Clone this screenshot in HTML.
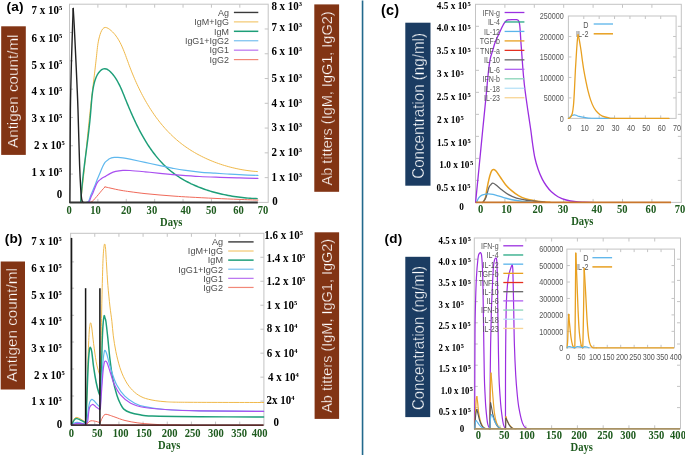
<!DOCTYPE html>
<html><head><meta charset="utf-8"><style>
html,body{margin:0;padding:0;background:#fff;}
svg{display:block;will-change:transform;}
</style></head><body>
<svg width="685" height="455" viewBox="0 0 685 455">
<rect width="685" height="455" fill="#fff"/>
<rect x="69.5" y="4.2" width="198.7" height="198.20000000000002" fill="none" stroke="#c4c4c4" stroke-width="1"/>
<line x1="97.88571428571429" y1="202.4" x2="97.88571428571429" y2="198.9" stroke="#c4c4c4" stroke-width="1"/>
<line x1="97.88571428571429" y1="4.2" x2="97.88571428571429" y2="7.7" stroke="#c4c4c4" stroke-width="1"/>
<line x1="126.27142857142857" y1="202.4" x2="126.27142857142857" y2="198.9" stroke="#c4c4c4" stroke-width="1"/>
<line x1="126.27142857142857" y1="4.2" x2="126.27142857142857" y2="7.7" stroke="#c4c4c4" stroke-width="1"/>
<line x1="154.65714285714284" y1="202.4" x2="154.65714285714284" y2="198.9" stroke="#c4c4c4" stroke-width="1"/>
<line x1="154.65714285714284" y1="4.2" x2="154.65714285714284" y2="7.7" stroke="#c4c4c4" stroke-width="1"/>
<line x1="183.04285714285714" y1="202.4" x2="183.04285714285714" y2="198.9" stroke="#c4c4c4" stroke-width="1"/>
<line x1="183.04285714285714" y1="4.2" x2="183.04285714285714" y2="7.7" stroke="#c4c4c4" stroke-width="1"/>
<line x1="211.42857142857142" y1="202.4" x2="211.42857142857142" y2="198.9" stroke="#c4c4c4" stroke-width="1"/>
<line x1="211.42857142857142" y1="4.2" x2="211.42857142857142" y2="7.7" stroke="#c4c4c4" stroke-width="1"/>
<line x1="239.8142857142857" y1="202.4" x2="239.8142857142857" y2="198.9" stroke="#c4c4c4" stroke-width="1"/>
<line x1="239.8142857142857" y1="4.2" x2="239.8142857142857" y2="7.7" stroke="#c4c4c4" stroke-width="1"/>
<line x1="69.5" y1="174.0857142857143" x2="73.0" y2="174.0857142857143" stroke="#c4c4c4" stroke-width="1"/>
<line x1="69.5" y1="145.77142857142857" x2="73.0" y2="145.77142857142857" stroke="#c4c4c4" stroke-width="1"/>
<line x1="69.5" y1="117.45714285714286" x2="73.0" y2="117.45714285714286" stroke="#c4c4c4" stroke-width="1"/>
<line x1="69.5" y1="89.14285714285714" x2="73.0" y2="89.14285714285714" stroke="#c4c4c4" stroke-width="1"/>
<line x1="69.5" y1="60.82857142857142" x2="73.0" y2="60.82857142857142" stroke="#c4c4c4" stroke-width="1"/>
<line x1="69.5" y1="32.514285714285705" x2="73.0" y2="32.514285714285705" stroke="#c4c4c4" stroke-width="1"/>
<line x1="268.2" y1="177.625" x2="264.7" y2="177.625" stroke="#c4c4c4" stroke-width="1"/>
<line x1="268.2" y1="152.85" x2="264.7" y2="152.85" stroke="#c4c4c4" stroke-width="1"/>
<line x1="268.2" y1="128.075" x2="264.7" y2="128.075" stroke="#c4c4c4" stroke-width="1"/>
<line x1="268.2" y1="103.3" x2="264.7" y2="103.3" stroke="#c4c4c4" stroke-width="1"/>
<line x1="268.2" y1="78.52499999999999" x2="264.7" y2="78.52499999999999" stroke="#c4c4c4" stroke-width="1"/>
<line x1="268.2" y1="53.75" x2="264.7" y2="53.75" stroke="#c4c4c4" stroke-width="1"/>
<line x1="268.2" y1="28.974999999999994" x2="264.7" y2="28.974999999999994" stroke="#c4c4c4" stroke-width="1"/>
<text x="6.5" y="10.8" font-family='"Liberation Sans", sans-serif' font-size="13.6" font-weight="bold" fill="#000" text-anchor="start" letter-spacing="0.15">(a)</text>
<text transform="translate(31.6,13.8) scale(0.93,1)" font-family='"Liberation Serif", serif' font-size="11.8" font-weight="bold" fill="#000">7 x 10<tspan font-size="7" dx="0" dy="-4.1">5</tspan></text>
<text transform="translate(31.6,41.6) scale(0.93,1)" font-family='"Liberation Serif", serif' font-size="11.8" font-weight="bold" fill="#000">6 x 10<tspan font-size="7" dx="0" dy="-4.1">5</tspan></text>
<text transform="translate(31.6,68.5) scale(0.93,1)" font-family='"Liberation Serif", serif' font-size="11.8" font-weight="bold" fill="#000">5 x 10<tspan font-size="7" dx="0" dy="-4.1">5</tspan></text>
<text transform="translate(31.6,95) scale(0.93,1)" font-family='"Liberation Serif", serif' font-size="11.8" font-weight="bold" fill="#000">4 x 10<tspan font-size="7" dx="0" dy="-4.1">5</tspan></text>
<text transform="translate(31.6,122) scale(0.93,1)" font-family='"Liberation Serif", serif' font-size="11.8" font-weight="bold" fill="#000">3 x 10<tspan font-size="7" dx="0" dy="-4.1">5</tspan></text>
<text transform="translate(34.1,149.0) scale(0.93,1)" font-family='"Liberation Serif", serif' font-size="11.8" font-weight="bold" fill="#000">2 x 10<tspan font-size="7" dx="0" dy="-4.1">5</tspan></text>
<text transform="translate(31.6,176.2) scale(0.93,1)" font-family='"Liberation Serif", serif' font-size="11.8" font-weight="bold" fill="#000">1 x 10<tspan font-size="7" dx="0" dy="-4.1">5</tspan></text>
<text transform="translate(56.7,198) scale(0.93,1)" font-family='"Liberation Serif", serif' font-size="11.8" font-weight="bold" fill="#000" text-anchor="start" >0</text>
<rect x="1.2" y="26.3" width="24.6" height="128.6" fill="#823414"/>
<text transform="translate(17.6,148) rotate(-90)" font-family='"Liberation Sans", sans-serif' font-size="14" fill="#fff" stroke="#823414" stroke-width="0.3" textLength="113.5" lengthAdjust="spacingAndGlyphs">Antigen count/ml</text>
<rect x="314.3" y="4.4" width="24.8" height="187.4" fill="#823414"/>
<text transform="translate(331.9,185.4) rotate(-90)" font-family='"Liberation Sans", sans-serif' font-size="14" fill="#fff" stroke="#823414" stroke-width="0.3" textLength="174" lengthAdjust="spacingAndGlyphs">Ab titters (IgM, IgG1, IgG2)</text>
<text transform="translate(271.4,10.4) scale(0.93,1)" font-family='"Liberation Serif", serif' font-size="11.8" font-weight="bold" fill="#000">8 x 10<tspan font-size="7" dx="0" dy="-4.1">3</tspan></text>
<text transform="translate(271.4,31.1) scale(0.93,1)" font-family='"Liberation Serif", serif' font-size="11.8" font-weight="bold" fill="#000">7 x 10<tspan font-size="7" dx="0" dy="-4.1">3</tspan></text>
<text transform="translate(271.4,55.3) scale(0.93,1)" font-family='"Liberation Serif", serif' font-size="11.8" font-weight="bold" fill="#000">6 x 10<tspan font-size="7" dx="0" dy="-4.1">3</tspan></text>
<text transform="translate(271.4,82) scale(0.93,1)" font-family='"Liberation Serif", serif' font-size="11.8" font-weight="bold" fill="#000">5 x 10<tspan font-size="7" dx="0" dy="-4.1">3</tspan></text>
<text transform="translate(271.4,107.2) scale(0.93,1)" font-family='"Liberation Serif", serif' font-size="11.8" font-weight="bold" fill="#000">4 x 10<tspan font-size="7" dx="0" dy="-4.1">3</tspan></text>
<text transform="translate(271.4,131.3) scale(0.93,1)" font-family='"Liberation Serif", serif' font-size="11.8" font-weight="bold" fill="#000">3 x 10<tspan font-size="7" dx="0" dy="-4.1">3</tspan></text>
<text transform="translate(271.4,155.9) scale(0.93,1)" font-family='"Liberation Serif", serif' font-size="11.8" font-weight="bold" fill="#000">2 x 10<tspan font-size="7" dx="0" dy="-4.1">3</tspan></text>
<text transform="translate(271.4,181.4) scale(0.93,1)" font-family='"Liberation Serif", serif' font-size="11.8" font-weight="bold" fill="#000">1 x 10<tspan font-size="7" dx="0" dy="-4.1">3</tspan></text>
<text transform="translate(272.3,204.6) scale(0.93,1)" font-family='"Liberation Serif", serif' font-size="11.8" font-weight="bold" fill="#000" text-anchor="start" >0</text>
<text transform="translate(69.2,213.6) scale(0.92,1)" font-family='"Liberation Serif", serif' font-size="11.5" font-weight="bold" fill="#1e5b1e" text-anchor="middle" >0</text>
<text transform="translate(95.5,213.6) scale(0.92,1)" font-family='"Liberation Serif", serif' font-size="11.5" font-weight="bold" fill="#1e5b1e" text-anchor="middle" >10</text>
<text transform="translate(126.3,213.6) scale(0.92,1)" font-family='"Liberation Serif", serif' font-size="11.5" font-weight="bold" fill="#1e5b1e" text-anchor="middle" >20</text>
<text transform="translate(151.9,213.6) scale(0.92,1)" font-family='"Liberation Serif", serif' font-size="11.5" font-weight="bold" fill="#1e5b1e" text-anchor="middle" >30</text>
<text transform="translate(185.7,213.6) scale(0.92,1)" font-family='"Liberation Serif", serif' font-size="11.5" font-weight="bold" fill="#1e5b1e" text-anchor="middle" >40</text>
<text transform="translate(211.3,213.6) scale(0.92,1)" font-family='"Liberation Serif", serif' font-size="11.5" font-weight="bold" fill="#1e5b1e" text-anchor="middle" >50</text>
<text transform="translate(238.5,213.6) scale(0.92,1)" font-family='"Liberation Serif", serif' font-size="11.5" font-weight="bold" fill="#1e5b1e" text-anchor="middle" >60</text>
<text transform="translate(263,213.6) scale(0.92,1)" font-family='"Liberation Serif", serif' font-size="11.5" font-weight="bold" fill="#1e5b1e" text-anchor="middle" >70</text>
<text transform="translate(171.2,225.7) scale(0.92,1)" font-family='"Liberation Serif", serif' font-size="11.5" font-weight="bold" fill="#1e5b1e" text-anchor="middle" >Days</text>
<path d="M80.62,202.17 L80.86,200.18 L81.10,198.19 L81.34,196.20 L81.57,194.21 L81.80,192.21 L82.03,190.22 L82.25,188.22 L82.48,186.22 L82.70,184.21 L82.91,182.21 L83.13,180.21 L83.34,178.20 L83.56,176.19 L83.77,174.18 L83.97,172.17 L84.18,170.16 L84.39,168.15 L84.59,166.14 L84.79,164.12 L84.99,162.11 L85.19,160.10 L85.39,158.08 L85.59,156.07 L85.79,154.05 L85.99,152.03 L86.19,150.02 L86.39,148.00 L86.58,145.99 L86.78,143.97 L86.98,141.96 L87.18,139.94 L87.38,137.93 L87.58,135.91 L87.78,133.90 L87.98,131.89 L88.18,129.88 L88.38,127.86 L88.59,125.85 L88.79,123.84 L89.00,121.84 L89.21,119.83 L89.42,117.82 L89.63,115.82 L89.84,113.82 L90.06,111.82 L90.28,109.82 L90.50,107.82 L90.72,105.82 L90.95,103.83 L91.18,101.83 L91.41,99.84 L91.64,97.85 L91.87,95.86 L92.11,93.87 L92.34,91.88 L92.58,89.89 L92.82,87.90 L93.06,85.91 L93.30,83.92 L93.53,81.93 L93.77,79.93 L94.01,77.93 L94.25,75.93 L94.49,73.93 L94.72,71.93 L94.96,69.92 L95.19,67.91 L95.42,65.89 L95.65,63.87 L95.88,61.85 L96.10,59.82 L96.33,57.79 L96.55,55.75 L96.76,53.70 L96.97,51.65 L97.19,49.60 L97.43,47.52 L97.70,45.43 L98.02,43.32 L98.41,41.18 L98.86,39.01 L99.41,36.81 L100.07,34.57 L100.84,32.38 L101.74,30.42 L102.77,28.84 L103.95,27.80 L105.28,27.45 L106.72,27.70 L108.21,28.41 L109.70,29.43 L111.13,30.60 L112.49,31.86 L113.77,33.20 L114.97,34.60 L116.11,36.08 L117.19,37.62 L118.21,39.22 L119.18,40.87 L120.10,42.57 L120.98,44.32 L121.82,46.11 L122.62,47.94 L123.40,49.79 L124.15,51.68 L124.89,53.59 L125.61,55.52 L126.32,57.46 L127.03,59.41 L127.74,61.37 L128.45,63.33 L129.17,65.28 L129.91,67.23 L130.65,69.17 L131.41,71.11 L132.18,73.03 L132.97,74.96 L133.77,76.87 L134.58,78.77 L135.41,80.67 L136.25,82.56 L137.10,84.43 L137.97,86.30 L138.86,88.16 L139.76,90.00 L140.67,91.84 L141.60,93.66 L142.55,95.47 L143.51,97.27 L144.49,99.06 L145.49,100.83 L146.50,102.59 L147.53,104.33 L148.58,106.06 L149.64,107.78 L150.73,109.48 L151.83,111.17 L152.95,112.84 L154.08,114.49 L155.24,116.13 L156.42,117.74 L157.61,119.34 L158.83,120.93 L160.06,122.49 L161.31,124.04 L162.59,125.57 L163.88,127.07 L165.20,128.56 L166.54,130.03 L167.90,131.47 L169.28,132.89 L170.68,134.30 L172.10,135.68 L173.55,137.04 L175.02,138.37 L176.51,139.68 L178.02,140.97 L179.56,142.24 L181.12,143.48 L182.71,144.69 L184.31,145.88 L185.95,147.04 L187.60,148.18 L189.28,149.29 L190.98,150.38 L192.70,151.44 L194.44,152.48 L196.20,153.48 L197.98,154.47 L199.77,155.42 L201.58,156.35 L203.41,157.26 L205.25,158.14 L207.11,158.99 L208.98,159.81 L210.86,160.61 L212.76,161.38 L214.66,162.13 L216.58,162.84 L218.50,163.54 L220.44,164.20 L222.38,164.84 L224.33,165.45 L226.29,166.03 L228.25,166.58 L230.21,167.11 L232.19,167.61 L234.16,168.09 L236.13,168.53 L238.11,168.95 L240.09,169.34 L242.07,169.70 L244.05,170.04 L246.02,170.34 L248.00,170.62 L249.97,170.87 L251.93,171.10 L253.90,171.29 L255.85,171.46 L257.80,171.59" fill="none" stroke="#f0b94a" stroke-width="1" stroke-linejoin="round"/>
<path d="M80.69,202.65 L80.84,200.37 L81.00,198.13 L81.17,195.92 L81.35,193.74 L81.53,191.59 L81.72,189.46 L81.92,187.36 L82.12,185.29 L82.32,183.24 L82.53,181.21 L82.74,179.21 L82.96,177.22 L83.19,175.25 L83.41,173.30 L83.64,171.36 L83.88,169.43 L84.11,167.51 L84.35,165.61 L84.59,163.71 L84.83,161.83 L85.08,159.94 L85.32,158.07 L85.57,156.19 L85.81,154.32 L86.06,152.45 L86.31,150.57 L86.56,148.70 L86.80,146.81 L87.05,144.93 L87.29,143.03 L87.54,141.13 L87.78,139.22 L88.02,137.29 L88.25,135.35 L88.49,133.40 L88.72,131.43 L88.95,129.45 L89.17,127.45 L89.40,125.42 L89.61,123.37 L89.83,121.31 L90.03,119.21 L90.24,117.09 L90.44,114.94 L90.63,112.77 L90.81,110.56 L91.00,108.32 L91.17,106.06 L91.36,103.78 L91.55,101.50 L91.75,99.22 L91.98,96.94 L92.22,94.69 L92.50,92.47 L92.81,90.28 L93.16,88.15 L93.55,86.06 L93.99,84.04 L94.49,82.09 L95.04,80.23 L95.66,78.45 L96.35,76.77 L97.11,75.20 L97.96,73.75 L98.88,72.42 L99.90,71.23 L101.01,70.20 L102.20,69.39 L103.47,68.88 L104.80,68.72 L106.17,68.94 L107.58,69.54 L108.99,70.48 L110.39,71.69 L111.76,73.13 L113.09,74.73 L114.37,76.43 L115.56,78.18 L116.67,79.95 L117.72,81.76 L118.70,83.58 L119.63,85.42 L120.51,87.28 L121.36,89.15 L122.17,91.04 L122.96,92.93 L123.73,94.83 L124.50,96.74 L125.27,98.65 L126.04,100.56 L126.82,102.47 L127.60,104.38 L128.40,106.28 L129.20,108.18 L130.01,110.08 L130.82,111.98 L131.65,113.87 L132.49,115.76 L133.34,117.64 L134.20,119.51 L135.07,121.37 L135.95,123.23 L136.85,125.07 L137.76,126.91 L138.69,128.74 L139.62,130.55 L140.58,132.35 L141.55,134.14 L142.53,135.92 L143.54,137.68 L144.56,139.42 L145.59,141.15 L146.65,142.86 L147.73,144.56 L148.82,146.23 L149.94,147.89 L151.07,149.53 L152.23,151.15 L153.41,152.74 L154.61,154.31 L155.84,155.87 L157.08,157.39 L158.36,158.90 L159.65,160.37 L160.97,161.83 L162.32,163.25 L163.70,164.65 L165.10,166.02 L166.53,167.36 L167.98,168.68 L169.47,169.96 L170.98,171.21 L172.52,172.43 L174.10,173.62 L175.70,174.77 L177.33,175.90 L178.98,176.99 L180.66,178.05 L182.37,179.08 L184.10,180.09 L185.85,181.06 L187.63,182.00 L189.42,182.91 L191.23,183.80 L193.07,184.65 L194.92,185.48 L196.79,186.28 L198.67,187.05 L200.57,187.79 L202.48,188.51 L204.41,189.20 L206.34,189.86 L208.29,190.49 L210.25,191.10 L212.22,191.69 L214.19,192.25 L216.17,192.78 L218.16,193.29 L220.16,193.77 L222.15,194.23 L224.15,194.66 L226.16,195.07 L228.16,195.46 L230.17,195.83 L232.17,196.17 L234.17,196.49 L236.17,196.78 L238.17,197.06 L240.16,197.31 L242.15,197.54 L244.13,197.75 L246.10,197.94 L248.06,198.11 L250.02,198.26 L251.96,198.39 L253.89,198.49 L255.81,198.58 L257.72,198.65" fill="none" stroke="#1d9e78" stroke-width="1.45" stroke-linejoin="round"/>
<path d="M86.50,202.20 C86.85,202.05 87.85,202.53 88.60,201.30 C89.35,200.07 90.05,197.17 91.00,194.80 C91.95,192.43 93.30,189.57 94.30,187.10 C95.30,184.63 96.05,182.37 97.00,180.00 C97.95,177.63 99.08,175.07 100.00,172.90 C100.92,170.73 101.67,168.77 102.50,167.00 C103.33,165.23 103.98,163.58 105.00,162.30 C106.02,161.02 107.52,160.03 108.60,159.30 C109.68,158.57 110.55,158.22 111.50,157.90 C112.45,157.58 113.22,157.48 114.30,157.40 C115.38,157.32 116.57,157.32 118.00,157.40 C119.43,157.48 120.90,157.60 122.90,157.90 C124.90,158.20 126.32,158.45 130.00,159.20 C133.68,159.95 140.00,161.32 145.00,162.40 C150.00,163.48 155.52,164.75 160.00,165.70 C164.48,166.65 167.93,167.35 171.90,168.10 C175.87,168.85 179.18,169.53 183.80,170.20 C188.42,170.87 194.40,171.60 199.60,172.10 C204.80,172.60 210.42,172.88 215.00,173.20 C219.58,173.52 223.07,173.75 227.10,174.00 C231.13,174.25 234.07,174.47 239.20,174.70 C244.33,174.93 254.78,175.28 257.90,175.40" fill="none" stroke="#5fb8ee" stroke-width="1.2" stroke-linejoin="round" stroke-linecap="round" opacity="1"/>
<path d="M87.50,202.20 C87.80,202.05 88.72,202.17 89.30,201.30 C89.88,200.43 90.40,198.40 91.00,197.00 C91.60,195.60 91.88,195.25 92.90,192.90 C93.92,190.55 95.75,185.22 97.10,182.90 C98.45,180.58 99.57,180.12 101.00,179.00 C102.43,177.88 104.20,177.10 105.70,176.20 C107.20,175.30 108.33,174.40 110.00,173.60 C111.67,172.80 113.55,171.93 115.70,171.40 C117.85,170.87 120.52,170.55 122.90,170.40 C125.28,170.25 126.32,170.27 130.00,170.50 C133.68,170.73 140.00,171.33 145.00,171.80 C150.00,172.27 154.20,172.75 160.00,173.30 C165.80,173.85 173.20,174.57 179.80,175.10 C186.40,175.63 192.90,176.13 199.60,176.50 C206.30,176.87 213.40,177.07 220.00,177.30 C226.60,177.53 232.88,177.72 239.20,177.90 C245.52,178.08 254.78,178.32 257.90,178.40" fill="none" stroke="#a94ff0" stroke-width="1.2" stroke-linejoin="round" stroke-linecap="round" opacity="1"/>
<path d="M90.00,202.20 C90.35,202.10 91.27,202.22 92.10,201.60 C92.93,200.98 93.92,199.72 95.00,198.50 C96.08,197.28 97.43,195.68 98.60,194.30 C99.77,192.92 100.93,191.43 102.00,190.20 C103.07,188.97 104.50,187.45 105.00,186.90" fill="none" stroke="#f06a5a" stroke-width="1" stroke-linejoin="round" stroke-linecap="round" opacity="1"/>
<path d="M105.00,186.90 C105.83,187.08 108.22,187.60 110.00,188.00 C111.78,188.40 113.70,188.88 115.70,189.30 C117.70,189.72 119.62,190.10 122.00,190.50 C124.38,190.90 126.17,191.18 130.00,191.70 C133.83,192.22 140.00,193.05 145.00,193.60 C150.00,194.15 155.00,194.57 160.00,195.00 C165.00,195.43 170.05,195.85 175.00,196.20 C179.95,196.55 183.03,196.73 189.70,197.10 C196.37,197.47 206.75,198.02 215.00,198.40 C223.25,198.78 232.05,199.12 239.20,199.40 C246.35,199.68 254.78,199.98 257.90,200.10" fill="none" stroke="#f06a5a" stroke-width="1" stroke-linejoin="round" stroke-linecap="round" opacity="1"/>
<path d="M69.90,202.40 C69.93,197.00 70.02,185.40 70.10,170.00 C70.18,154.60 70.17,128.33 70.40,110.00 C70.63,91.67 71.13,74.17 71.50,60.00 C71.87,45.83 72.32,33.60 72.60,25.00 C72.88,16.40 73.10,11.17 73.20,8.40" fill="none" stroke="#222" stroke-width="1.4" stroke-linejoin="round" stroke-linecap="round" opacity="1"/>
<path d="M73.20,8.40 C73.37,11.17 73.82,17.73 74.20,25.00 C74.58,32.27 75.03,42.00 75.50,52.00 C75.97,62.00 76.58,75.33 77.00,85.00 C77.42,94.67 77.57,96.67 78.00,110.00 C78.43,123.33 79.13,151.67 79.60,165.00 C80.07,178.33 80.47,184.42 80.80,190.00 C81.13,195.58 81.30,196.50 81.60,198.50 C81.90,200.50 82.28,201.35 82.60,202.00 C82.92,202.65 83.35,202.33 83.50,202.40" fill="none" stroke="#222" stroke-width="1.4" stroke-linejoin="round" stroke-linecap="round" opacity="1"/>
<path d="M69.50,202.40 L257.80,202.40" fill="none" stroke="#333" stroke-width="2" stroke-linejoin="round"/>
<text x="228.9" y="15.75" font-family='"Liberation Sans", sans-serif' font-size="8.95" font-weight="normal" fill="#4d4d4d" text-anchor="end" >Ag</text>
<line x1="233.9" y1="12.45" x2="258.3" y2="12.45" stroke="#3a3a3a" stroke-width="1.4"/>
<text x="228.9" y="25.18" font-family='"Liberation Sans", sans-serif' font-size="8.95" font-weight="normal" fill="#4d4d4d" text-anchor="end" >IgM+IgG</text>
<line x1="233.9" y1="21.88" x2="258.3" y2="21.88" stroke="#f3c870" stroke-width="1.2"/>
<text x="228.9" y="34.61" font-family='"Liberation Sans", sans-serif' font-size="8.95" font-weight="normal" fill="#4d4d4d" text-anchor="end" >IgM</text>
<line x1="233.9" y1="31.31" x2="258.3" y2="31.31" stroke="#1d9e78" stroke-width="1.5"/>
<text x="228.9" y="44.03999999999999" font-family='"Liberation Sans", sans-serif' font-size="8.95" font-weight="normal" fill="#4d4d4d" text-anchor="end" >IgG1+IgG2</text>
<line x1="233.9" y1="40.739999999999995" x2="258.3" y2="40.739999999999995" stroke="#80c4f0" stroke-width="1.3"/>
<text x="228.9" y="53.47" font-family='"Liberation Sans", sans-serif' font-size="8.95" font-weight="normal" fill="#4d4d4d" text-anchor="end" >IgG1</text>
<line x1="233.9" y1="50.17" x2="258.3" y2="50.17" stroke="#b870f0" stroke-width="1.2"/>
<text x="228.9" y="62.89999999999999" font-family='"Liberation Sans", sans-serif' font-size="8.95" font-weight="normal" fill="#4d4d4d" text-anchor="end" >IgG2</text>
<line x1="233.9" y1="59.599999999999994" x2="258.3" y2="59.599999999999994" stroke="#f28878" stroke-width="1.2"/>
<rect x="70.6" y="233.3" width="193.29999999999998" height="191.8" fill="none" stroke="#c4c4c4" stroke-width="1"/>
<line x1="94.76249999999999" y1="425.1" x2="94.76249999999999" y2="421.6" stroke="#c4c4c4" stroke-width="1"/>
<line x1="94.76249999999999" y1="233.3" x2="94.76249999999999" y2="236.8" stroke="#c4c4c4" stroke-width="1"/>
<line x1="118.92499999999998" y1="425.1" x2="118.92499999999998" y2="421.6" stroke="#c4c4c4" stroke-width="1"/>
<line x1="118.92499999999998" y1="233.3" x2="118.92499999999998" y2="236.8" stroke="#c4c4c4" stroke-width="1"/>
<line x1="143.08749999999998" y1="425.1" x2="143.08749999999998" y2="421.6" stroke="#c4c4c4" stroke-width="1"/>
<line x1="143.08749999999998" y1="233.3" x2="143.08749999999998" y2="236.8" stroke="#c4c4c4" stroke-width="1"/>
<line x1="167.25" y1="425.1" x2="167.25" y2="421.6" stroke="#c4c4c4" stroke-width="1"/>
<line x1="167.25" y1="233.3" x2="167.25" y2="236.8" stroke="#c4c4c4" stroke-width="1"/>
<line x1="191.41249999999997" y1="425.1" x2="191.41249999999997" y2="421.6" stroke="#c4c4c4" stroke-width="1"/>
<line x1="191.41249999999997" y1="233.3" x2="191.41249999999997" y2="236.8" stroke="#c4c4c4" stroke-width="1"/>
<line x1="215.575" y1="425.1" x2="215.575" y2="421.6" stroke="#c4c4c4" stroke-width="1"/>
<line x1="215.575" y1="233.3" x2="215.575" y2="236.8" stroke="#c4c4c4" stroke-width="1"/>
<line x1="239.73749999999998" y1="425.1" x2="239.73749999999998" y2="421.6" stroke="#c4c4c4" stroke-width="1"/>
<line x1="239.73749999999998" y1="233.3" x2="239.73749999999998" y2="236.8" stroke="#c4c4c4" stroke-width="1"/>
<line x1="70.6" y1="261.9" x2="74.1" y2="261.9" stroke="#c4c4c4" stroke-width="1"/>
<line x1="70.6" y1="288.2" x2="74.1" y2="288.2" stroke="#c4c4c4" stroke-width="1"/>
<line x1="70.6" y1="315.3" x2="74.1" y2="315.3" stroke="#c4c4c4" stroke-width="1"/>
<line x1="70.6" y1="342" x2="74.1" y2="342" stroke="#c4c4c4" stroke-width="1"/>
<line x1="70.6" y1="369" x2="74.1" y2="369" stroke="#c4c4c4" stroke-width="1"/>
<line x1="70.6" y1="396" x2="74.1" y2="396" stroke="#c4c4c4" stroke-width="1"/>
<line x1="263.9" y1="401.125" x2="260.4" y2="401.125" stroke="#c4c4c4" stroke-width="1"/>
<line x1="263.9" y1="377.15000000000003" x2="260.4" y2="377.15000000000003" stroke="#c4c4c4" stroke-width="1"/>
<line x1="263.9" y1="353.175" x2="260.4" y2="353.175" stroke="#c4c4c4" stroke-width="1"/>
<line x1="263.9" y1="329.20000000000005" x2="260.4" y2="329.20000000000005" stroke="#c4c4c4" stroke-width="1"/>
<line x1="263.9" y1="305.225" x2="260.4" y2="305.225" stroke="#c4c4c4" stroke-width="1"/>
<line x1="263.9" y1="281.25" x2="260.4" y2="281.25" stroke="#c4c4c4" stroke-width="1"/>
<line x1="263.9" y1="257.275" x2="260.4" y2="257.275" stroke="#c4c4c4" stroke-width="1"/>
<text x="4.8" y="243.0" font-family='"Liberation Sans", sans-serif' font-size="13.6" font-weight="bold" fill="#000" text-anchor="start" letter-spacing="0.1">(b)</text>
<text transform="translate(31.2,244.6) scale(0.93,1)" font-family='"Liberation Serif", serif' font-size="11.8" font-weight="bold" fill="#000">7 x 10<tspan font-size="7" dx="0" dy="-4.1">5</tspan></text>
<text transform="translate(31.2,271.8) scale(0.93,1)" font-family='"Liberation Serif", serif' font-size="11.8" font-weight="bold" fill="#000">6 x 10<tspan font-size="7" dx="0" dy="-4.1">5</tspan></text>
<text transform="translate(31.2,298.8) scale(0.93,1)" font-family='"Liberation Serif", serif' font-size="11.8" font-weight="bold" fill="#000">5 x 10<tspan font-size="7" dx="0" dy="-4.1">5</tspan></text>
<text transform="translate(31.2,325.2) scale(0.93,1)" font-family='"Liberation Serif", serif' font-size="11.8" font-weight="bold" fill="#000">4 x 10<tspan font-size="7" dx="0" dy="-4.1">5</tspan></text>
<text transform="translate(31.2,352.3) scale(0.93,1)" font-family='"Liberation Serif", serif' font-size="11.8" font-weight="bold" fill="#000">3 x 10<tspan font-size="7" dx="0" dy="-4.1">5</tspan></text>
<text transform="translate(34.1,378.8) scale(0.93,1)" font-family='"Liberation Serif", serif' font-size="11.8" font-weight="bold" fill="#000">2 x 10<tspan font-size="7" dx="0" dy="-4.1">5</tspan></text>
<text transform="translate(31.2,405.3) scale(0.93,1)" font-family='"Liberation Serif", serif' font-size="11.8" font-weight="bold" fill="#000">1 x 10<tspan font-size="7" dx="0" dy="-4.1">5</tspan></text>
<text transform="translate(56.7,427.5) scale(0.93,1)" font-family='"Liberation Serif", serif' font-size="11.8" font-weight="bold" fill="#000" text-anchor="start" >0</text>
<rect x="0.7" y="261.5" width="24.3" height="128" fill="#823414"/>
<text transform="translate(17.3,381.9) rotate(-90)" font-family='"Liberation Sans", sans-serif' font-size="14" fill="#fff" stroke="#823414" stroke-width="0.3" textLength="113.8" lengthAdjust="spacingAndGlyphs">Antigen count/ml</text>
<rect x="314.6" y="232.3" width="24.5" height="186.6" fill="#823414"/>
<text transform="translate(331.9,412.8) rotate(-90)" font-family='"Liberation Sans", sans-serif' font-size="14" fill="#fff" stroke="#823414" stroke-width="0.3" textLength="174" lengthAdjust="spacingAndGlyphs">Ab titters (IgM, IgG1, IgG2)</text>
<text transform="translate(264.2,239.1) scale(0.93,1)" font-family='"Liberation Serif", serif' font-size="11.8" font-weight="bold" fill="#000">1.6 x 10<tspan font-size="7" dx="0" dy="-4.1">5</tspan></text>
<text transform="translate(266.5,262) scale(0.93,1)" font-family='"Liberation Serif", serif' font-size="11.8" font-weight="bold" fill="#000">1.4 x 10<tspan font-size="7" dx="0" dy="-4.1">5</tspan></text>
<text transform="translate(266.5,285.1) scale(0.93,1)" font-family='"Liberation Serif", serif' font-size="11.8" font-weight="bold" fill="#000">1.2 x 10<tspan font-size="7" dx="0" dy="-4.1">5</tspan></text>
<text transform="translate(266.5,308.9) scale(0.93,1)" font-family='"Liberation Serif", serif' font-size="11.8" font-weight="bold" fill="#000">1 x 10<tspan font-size="7" dx="0" dy="-4.1">5</tspan></text>
<text transform="translate(266.8,331.9) scale(0.93,1)" font-family='"Liberation Serif", serif' font-size="11.8" font-weight="bold" fill="#000">8 x 10<tspan font-size="7" dx="0" dy="-4.1">4</tspan></text>
<text transform="translate(266.8,357) scale(0.93,1)" font-family='"Liberation Serif", serif' font-size="11.8" font-weight="bold" fill="#000">6 x 10<tspan font-size="7" dx="0" dy="-4.1">4</tspan></text>
<text transform="translate(268,380.6) scale(0.93,1)" font-family='"Liberation Serif", serif' font-size="11.8" font-weight="bold" fill="#000">4 x 10<tspan font-size="7" dx="0" dy="-4.1">4</tspan></text>
<text transform="translate(266.5,404.2) scale(0.93,1)" font-family='"Liberation Serif", serif' font-size="11.8" font-weight="bold" fill="#000">2x 10<tspan font-size="7" dx="0" dy="-4.1">4</tspan></text>
<text transform="translate(273.5,425.6) scale(0.93,1)" font-family='"Liberation Serif", serif' font-size="11.8" font-weight="bold" fill="#000" text-anchor="start" >0</text>
<text transform="translate(71.5,437.1) scale(0.92,1)" font-family='"Liberation Serif", serif' font-size="11.5" font-weight="bold" fill="#1e5b1e" text-anchor="middle" >0</text>
<text transform="translate(97.2,437.1) scale(0.92,1)" font-family='"Liberation Serif", serif' font-size="11.5" font-weight="bold" fill="#1e5b1e" text-anchor="middle" >50</text>
<text transform="translate(120.6,437.1) scale(0.92,1)" font-family='"Liberation Serif", serif' font-size="11.5" font-weight="bold" fill="#1e5b1e" text-anchor="middle" >100</text>
<text transform="translate(143.9,437.1) scale(0.92,1)" font-family='"Liberation Serif", serif' font-size="11.5" font-weight="bold" fill="#1e5b1e" text-anchor="middle" >150</text>
<text transform="translate(169.6,437.1) scale(0.92,1)" font-family='"Liberation Serif", serif' font-size="11.5" font-weight="bold" fill="#1e5b1e" text-anchor="middle" >200</text>
<text transform="translate(192.7,437.1) scale(0.92,1)" font-family='"Liberation Serif", serif' font-size="11.5" font-weight="bold" fill="#1e5b1e" text-anchor="middle" >250</text>
<text transform="translate(215.8,437.1) scale(0.92,1)" font-family='"Liberation Serif", serif' font-size="11.5" font-weight="bold" fill="#1e5b1e" text-anchor="middle" >300</text>
<text transform="translate(239.2,437.1) scale(0.92,1)" font-family='"Liberation Serif", serif' font-size="11.5" font-weight="bold" fill="#1e5b1e" text-anchor="middle" >350</text>
<text transform="translate(259.6,437.1) scale(0.92,1)" font-family='"Liberation Serif", serif' font-size="11.5" font-weight="bold" fill="#1e5b1e" text-anchor="middle" >400</text>
<text transform="translate(169.2,448.5) scale(0.92,1)" font-family='"Liberation Serif", serif' font-size="11.5" font-weight="bold" fill="#1e5b1e" text-anchor="middle" >Days</text>
<path d="M72.00,425.00 C72.22,424.25 72.80,421.67 73.30,420.50 C73.80,419.33 74.38,418.52 75.00,418.00 C75.62,417.48 76.17,417.30 77.00,417.40 C77.83,417.50 79.00,418.08 80.00,418.60 C81.00,419.12 82.03,419.88 83.00,420.50 C83.97,421.12 85.33,422.00 85.80,422.30" fill="none" stroke="#f0b94a" stroke-width="1" stroke-linejoin="round" stroke-linecap="round" opacity="1"/>
<path d="M72.00,425.00 C72.22,424.42 72.77,422.50 73.30,421.50 C73.83,420.50 74.62,419.48 75.20,419.00 C75.78,418.52 76.00,418.47 76.80,418.60 C77.60,418.73 78.97,419.35 80.00,419.80 C81.03,420.25 82.03,420.80 83.00,421.30 C83.97,421.80 85.33,422.55 85.80,422.80" fill="none" stroke="#1d9e78" stroke-width="1.4" stroke-linejoin="round" stroke-linecap="round" opacity="1"/>
<path d="M72.30,425.00 C72.58,424.70 73.22,423.63 74.00,423.20 C74.78,422.77 75.92,422.47 77.00,422.40 C78.08,422.33 79.03,422.50 80.50,422.80 C81.97,423.10 84.92,423.97 85.80,424.20" fill="none" stroke="#5fb8ee" stroke-width="1.1" stroke-linejoin="round" stroke-linecap="round" opacity="1"/>
<path d="M72.50,425.00 C72.83,424.83 73.67,424.27 74.50,424.00 C75.33,423.73 76.42,423.47 77.50,423.40 C78.58,423.33 79.62,423.42 81.00,423.60 C82.38,423.78 85.00,424.35 85.80,424.50" fill="none" stroke="#a94ff0" stroke-width="1.1" stroke-linejoin="round" stroke-linecap="round" opacity="1"/>
<path d="M85.90,424.00 C86.05,420.00 86.45,410.67 86.80,400.00 C87.15,389.33 87.60,371.33 88.00,360.00 C88.40,348.67 88.78,338.18 89.20,332.00 C89.62,325.82 90.07,323.57 90.50,322.90 C90.93,322.23 91.28,324.55 91.80,328.00 C92.32,331.45 92.87,337.97 93.60,343.60 C94.33,349.23 95.33,357.05 96.20,361.80 C97.07,366.55 98.15,369.95 98.80,372.10 C99.45,374.25 99.88,374.27 100.10,374.70" fill="none" stroke="#f0b94a" stroke-width="1" stroke-linejoin="round" stroke-linecap="round" opacity="1"/>
<path d="M85.90,424.00 C86.08,419.17 86.62,404.83 87.00,395.00 C87.38,385.17 87.80,372.50 88.20,365.00 C88.60,357.50 89.02,352.92 89.40,350.00 C89.78,347.08 90.10,347.17 90.50,347.50 C90.90,347.83 91.28,348.77 91.80,352.00 C92.32,355.23 92.87,361.82 93.60,366.90 C94.33,371.98 95.33,378.18 96.20,382.50 C97.07,386.82 98.15,390.65 98.80,392.80 C99.45,394.95 99.88,394.97 100.10,395.40" fill="none" stroke="#1d9e78" stroke-width="1.5" stroke-linejoin="round" stroke-linecap="round" opacity="1"/>
<path d="M85.90,424.00 C86.12,423.12 86.77,421.37 87.20,418.70 C87.63,416.03 88.07,410.80 88.50,408.00 C88.93,405.20 89.25,403.35 89.80,401.90 C90.35,400.45 91.10,399.48 91.80,399.30 C92.50,399.12 93.27,400.15 94.00,400.80 C94.73,401.45 95.50,402.45 96.20,403.20 C96.90,403.95 97.55,404.65 98.20,405.30 C98.85,405.95 99.78,406.80 100.10,407.10" fill="none" stroke="#5fb8ee" stroke-width="1.2" stroke-linejoin="round" stroke-linecap="round" opacity="1"/>
<path d="M85.90,424.50 C86.20,423.97 87.23,423.38 87.70,421.30 C88.17,419.22 88.35,414.37 88.70,412.00 C89.05,409.63 89.18,408.35 89.80,407.10 C90.42,405.85 91.62,404.77 92.40,404.50 C93.18,404.23 93.87,405.07 94.50,405.50 C95.13,405.93 95.58,406.62 96.20,407.10 C96.82,407.58 97.55,407.98 98.20,408.40 C98.85,408.82 99.78,409.40 100.10,409.60" fill="none" stroke="#a94ff0" stroke-width="1.2" stroke-linejoin="round" stroke-linecap="round" opacity="1"/>
<path d="M85.90,424.80 C86.12,424.65 86.68,424.40 87.20,423.90 C87.72,423.40 88.37,422.32 89.00,421.80 C89.63,421.28 90.17,420.93 91.00,420.80 C91.83,420.67 92.92,420.83 94.00,421.00 C95.08,421.17 96.48,421.50 97.50,421.80 C98.52,422.10 99.67,422.63 100.10,422.80" fill="none" stroke="#f06a5a" stroke-width="1" stroke-linejoin="round" stroke-linecap="round" opacity="1"/>
<path d="M100.40,381.00 C100.60,370.00 101.27,331.83 101.60,315.00 C101.93,298.17 102.13,289.83 102.40,280.00 C102.67,270.17 102.87,261.93 103.20,256.00 C103.53,250.07 104.02,245.73 104.40,244.40 C104.78,243.07 105.15,244.73 105.50,248.00 C105.85,251.27 106.10,257.75 106.50,264.00 C106.90,270.25 107.33,278.50 107.90,285.50 C108.47,292.50 109.23,300.00 109.90,306.00 C110.57,312.00 111.33,316.53 111.90,321.50 C112.47,326.47 112.63,330.77 113.30,335.80 C113.97,340.83 114.80,346.42 115.90,351.70 C117.00,356.98 118.42,362.88 119.90,367.50 C121.38,372.12 123.00,375.93 124.80,379.40 C126.60,382.87 128.38,385.65 130.70,388.30 C133.02,390.95 135.72,393.47 138.70,395.30 C141.68,397.13 144.22,398.23 148.60,399.30 C152.98,400.37 158.10,401.20 165.00,401.70 C171.90,402.20 173.57,402.17 190.00,402.30 C206.43,402.43 251.33,402.47 263.60,402.50" fill="none" stroke="#f0b94a" stroke-width="1" stroke-linejoin="round" stroke-linecap="round" opacity="1"/>
<path d="M100.40,394.00 C100.58,389.17 101.12,375.67 101.50,365.00 C101.88,354.33 102.28,338.12 102.70,330.00 C103.12,321.88 103.62,318.30 104.00,316.30 C104.38,314.30 104.67,317.05 105.00,318.00 C105.33,318.95 105.50,318.37 106.00,322.00 C106.50,325.63 107.33,333.53 108.00,339.80 C108.67,346.07 109.18,353.00 110.00,359.60 C110.82,366.20 111.75,373.47 112.90,379.40 C114.05,385.33 115.63,391.10 116.90,395.20 C118.17,399.30 119.35,401.68 120.50,404.00 C121.65,406.32 122.22,407.68 123.80,409.10 C125.38,410.52 127.30,411.55 130.00,412.50 C132.70,413.45 136.32,414.22 140.00,414.80 C143.68,415.38 142.10,415.68 152.10,416.00 C162.10,416.32 181.42,416.53 200.00,416.70 C218.58,416.87 253.00,416.95 263.60,417.00" fill="none" stroke="#1d9e78" stroke-width="1.45" stroke-linejoin="round" stroke-linecap="round" opacity="1"/>
<path d="M100.40,405.00 C100.58,401.67 101.07,392.17 101.50,385.00 C101.93,377.83 102.55,367.50 103.00,362.00 C103.45,356.50 103.83,353.92 104.20,352.00 C104.57,350.08 104.73,350.05 105.20,350.50 C105.67,350.95 106.37,352.68 107.00,354.70 C107.63,356.72 108.18,359.63 109.00,362.60 C109.82,365.57 110.58,368.72 111.90,372.50 C113.22,376.28 114.75,381.35 116.90,385.30 C119.05,389.25 121.83,393.22 124.80,396.20 C127.77,399.18 131.40,401.45 134.70,403.20 C138.00,404.95 139.55,405.65 144.60,406.70 C149.65,407.75 155.77,408.82 165.00,409.50 C174.23,410.18 183.57,410.50 200.00,410.80 C216.43,411.10 253.00,411.22 263.60,411.30" fill="none" stroke="#5fb8ee" stroke-width="1.2" stroke-linejoin="round" stroke-linecap="round" opacity="1"/>
<path d="M100.40,408.50 C100.58,405.75 101.07,398.08 101.50,392.00 C101.93,385.92 102.55,376.83 103.00,372.00 C103.45,367.17 103.83,364.80 104.20,363.00 C104.57,361.20 104.73,361.27 105.20,361.20 C105.67,361.13 106.20,360.88 107.00,362.60 C107.80,364.32 108.85,368.03 110.00,371.50 C111.15,374.97 112.10,379.45 113.90,383.40 C115.70,387.35 118.00,391.90 120.80,395.20 C123.60,398.50 126.73,401.15 130.70,403.20 C134.67,405.25 138.88,406.45 144.60,407.50 C150.32,408.55 155.77,408.93 165.00,409.50 C174.23,410.07 183.57,410.58 200.00,410.90 C216.43,411.22 253.00,411.32 263.60,411.40" fill="none" stroke="#a94ff0" stroke-width="1.2" stroke-linejoin="round" stroke-linecap="round" opacity="1"/>
<path d="M100.00,423.00 C100.33,422.25 101.33,419.80 102.00,418.50 C102.67,417.20 103.35,415.90 104.00,415.20 C104.65,414.50 105.07,414.33 105.90,414.30 C106.73,414.27 107.48,414.53 109.00,415.00 C110.52,415.47 112.33,416.18 115.00,417.10 C117.67,418.02 121.18,419.53 125.00,420.50 C128.82,421.47 133.40,422.28 137.90,422.90 C142.40,423.52 147.25,423.87 152.00,424.20 C156.75,424.53 161.73,424.77 166.40,424.90 C171.07,425.03 177.73,424.98 180.00,425.00" fill="none" stroke="#f06a5a" stroke-width="1" stroke-linejoin="round" stroke-linecap="round" opacity="1"/>
<line x1="71.5" y1="425.1" x2="71.5" y2="237.9" stroke="#1a1a1a" stroke-width="1.6"/>
<line x1="85.6" y1="425.1" x2="85.6" y2="288.2" stroke="#151515" stroke-width="1.5"/>
<line x1="99.9" y1="425.1" x2="99.9" y2="288.2" stroke="#151515" stroke-width="1.5"/>
<path d="M71.00,425.10 L100.40,425.10" fill="none" stroke="#3a2a35" stroke-width="1.7" stroke-linejoin="round"/>
<path d="M100.40,425.10 L263.60,425.10" fill="none" stroke="#5a2a2a" stroke-width="1.7" stroke-linejoin="round"/>
<text x="223" y="245.20000000000002" font-family='"Liberation Sans", sans-serif' font-size="9.1" font-weight="normal" fill="#4d4d4d" text-anchor="end" >Ag</text>
<line x1="228.2" y1="241.9" x2="253.6" y2="241.9" stroke="#3a3a3a" stroke-width="1.4"/>
<text x="223" y="254.31" font-family='"Liberation Sans", sans-serif' font-size="9.1" font-weight="normal" fill="#4d4d4d" text-anchor="end" >IgM+IgG</text>
<line x1="228.2" y1="251.01" x2="253.6" y2="251.01" stroke="#f3c870" stroke-width="1.2"/>
<text x="223" y="263.42" font-family='"Liberation Sans", sans-serif' font-size="9.1" font-weight="normal" fill="#4d4d4d" text-anchor="end" >IgM</text>
<line x1="228.2" y1="260.12" x2="253.6" y2="260.12" stroke="#1d9e78" stroke-width="1.5"/>
<text x="223" y="272.53000000000003" font-family='"Liberation Sans", sans-serif' font-size="9.1" font-weight="normal" fill="#4d4d4d" text-anchor="end" >IgG1+IgG2</text>
<line x1="228.2" y1="269.23" x2="253.6" y2="269.23" stroke="#80c4f0" stroke-width="1.3"/>
<text x="223" y="281.64000000000004" font-family='"Liberation Sans", sans-serif' font-size="9.1" font-weight="normal" fill="#4d4d4d" text-anchor="end" >IgG1</text>
<line x1="228.2" y1="278.34000000000003" x2="253.6" y2="278.34000000000003" stroke="#b870f0" stroke-width="1.2"/>
<text x="223" y="290.75" font-family='"Liberation Sans", sans-serif' font-size="9.1" font-weight="normal" fill="#4d4d4d" text-anchor="end" >IgG2</text>
<line x1="228.2" y1="287.45" x2="253.6" y2="287.45" stroke="#f28878" stroke-width="1.2"/>
<line x1="362.55" y1="0.5" x2="362.55" y2="455" stroke="#22698c" stroke-width="1.6"/>
<rect x="475.5" y="4.3" width="205.79999999999995" height="198.1" fill="none" stroke="#c4c4c4" stroke-width="1"/>
<line x1="504.9" y1="202.4" x2="504.9" y2="198.9" stroke="#c4c4c4" stroke-width="1"/>
<line x1="504.9" y1="4.3" x2="504.9" y2="7.8" stroke="#c4c4c4" stroke-width="1"/>
<line x1="534.3" y1="202.4" x2="534.3" y2="198.9" stroke="#c4c4c4" stroke-width="1"/>
<line x1="534.3" y1="4.3" x2="534.3" y2="7.8" stroke="#c4c4c4" stroke-width="1"/>
<line x1="563.6999999999999" y1="202.4" x2="563.6999999999999" y2="198.9" stroke="#c4c4c4" stroke-width="1"/>
<line x1="563.6999999999999" y1="4.3" x2="563.6999999999999" y2="7.8" stroke="#c4c4c4" stroke-width="1"/>
<line x1="593.1" y1="202.4" x2="593.1" y2="198.9" stroke="#c4c4c4" stroke-width="1"/>
<line x1="593.1" y1="4.3" x2="593.1" y2="7.8" stroke="#c4c4c4" stroke-width="1"/>
<line x1="622.5" y1="202.4" x2="622.5" y2="198.9" stroke="#c4c4c4" stroke-width="1"/>
<line x1="622.5" y1="4.3" x2="622.5" y2="7.8" stroke="#c4c4c4" stroke-width="1"/>
<line x1="651.9" y1="202.4" x2="651.9" y2="198.9" stroke="#c4c4c4" stroke-width="1"/>
<line x1="651.9" y1="4.3" x2="651.9" y2="7.8" stroke="#c4c4c4" stroke-width="1"/>
<line x1="475.5" y1="180.38888888888889" x2="479.0" y2="180.38888888888889" stroke="#c4c4c4" stroke-width="1"/>
<line x1="475.5" y1="158.3777777777778" x2="479.0" y2="158.3777777777778" stroke="#c4c4c4" stroke-width="1"/>
<line x1="475.5" y1="136.36666666666667" x2="479.0" y2="136.36666666666667" stroke="#c4c4c4" stroke-width="1"/>
<line x1="475.5" y1="114.35555555555557" x2="479.0" y2="114.35555555555557" stroke="#c4c4c4" stroke-width="1"/>
<line x1="475.5" y1="92.34444444444445" x2="479.0" y2="92.34444444444445" stroke="#c4c4c4" stroke-width="1"/>
<line x1="475.5" y1="70.33333333333334" x2="479.0" y2="70.33333333333334" stroke="#c4c4c4" stroke-width="1"/>
<line x1="475.5" y1="48.32222222222222" x2="479.0" y2="48.32222222222222" stroke="#c4c4c4" stroke-width="1"/>
<line x1="475.5" y1="26.31111111111113" x2="479.0" y2="26.31111111111113" stroke="#c4c4c4" stroke-width="1"/>
<line x1="681.3" y1="180.38888888888889" x2="677.8" y2="180.38888888888889" stroke="#c4c4c4" stroke-width="1"/>
<line x1="681.3" y1="158.3777777777778" x2="677.8" y2="158.3777777777778" stroke="#c4c4c4" stroke-width="1"/>
<line x1="681.3" y1="136.36666666666667" x2="677.8" y2="136.36666666666667" stroke="#c4c4c4" stroke-width="1"/>
<line x1="681.3" y1="114.35555555555557" x2="677.8" y2="114.35555555555557" stroke="#c4c4c4" stroke-width="1"/>
<line x1="681.3" y1="92.34444444444445" x2="677.8" y2="92.34444444444445" stroke="#c4c4c4" stroke-width="1"/>
<line x1="681.3" y1="70.33333333333334" x2="677.8" y2="70.33333333333334" stroke="#c4c4c4" stroke-width="1"/>
<line x1="681.3" y1="48.32222222222222" x2="677.8" y2="48.32222222222222" stroke="#c4c4c4" stroke-width="1"/>
<line x1="681.3" y1="26.31111111111113" x2="677.8" y2="26.31111111111113" stroke="#c4c4c4" stroke-width="1"/>
<text x="380.9" y="14.7" font-family='"Liberation Sans", sans-serif' font-size="14.5" font-weight="bold" fill="#000" text-anchor="start" letter-spacing="0.2">(c)</text>
<rect x="405.3" y="22.7" width="25.2" height="163" fill="#1b3c62"/>
<text transform="translate(424,178.8) rotate(-90)" font-family='"Liberation Sans", sans-serif' font-size="15.6" fill="#fff" stroke="#1b3c62" stroke-width="0.35" textLength="145.8" lengthAdjust="spacingAndGlyphs">Concentration (ng/ml)</text>
<text transform="translate(436.8,8.9) scale(0.93,1)" font-family='"Liberation Serif", serif' font-size="10" font-weight="bold" fill="#000">4.5 x 10<tspan font-size="7" dx="0.5" dy="-2.9">5</tspan></text>
<text transform="translate(436.8,31.4) scale(0.93,1)" font-family='"Liberation Serif", serif' font-size="10" font-weight="bold" fill="#000">4.0 x 10<tspan font-size="7" dx="0.5" dy="-2.9">5</tspan></text>
<text transform="translate(436.8,54.4) scale(0.93,1)" font-family='"Liberation Serif", serif' font-size="10" font-weight="bold" fill="#000">3.5 x 10<tspan font-size="7" dx="0.5" dy="-2.9">5</tspan></text>
<text transform="translate(436.9,77.4) scale(0.93,1)" font-family='"Liberation Serif", serif' font-size="10" font-weight="bold" fill="#000">3 x 10<tspan font-size="7" dx="0.5" dy="-2.9">5</tspan></text>
<text transform="translate(436.8,99.9) scale(0.93,1)" font-family='"Liberation Serif", serif' font-size="10" font-weight="bold" fill="#000">2.5 x 10<tspan font-size="7" dx="0.5" dy="-2.9">5</tspan></text>
<text transform="translate(436.9,122.5) scale(0.93,1)" font-family='"Liberation Serif", serif' font-size="10" font-weight="bold" fill="#000">2 x 10<tspan font-size="7" dx="0.5" dy="-2.9">5</tspan></text>
<text transform="translate(436.9,145.5) scale(0.93,1)" font-family='"Liberation Serif", serif' font-size="10" font-weight="bold" fill="#000">1.5 x 10<tspan font-size="7" dx="0.5" dy="-2.9">5</tspan></text>
<text transform="translate(439.3,168) scale(0.93,1)" font-family='"Liberation Serif", serif' font-size="10" font-weight="bold" fill="#000">1.0 x 10<tspan font-size="7" dx="0.5" dy="-2.9">5</tspan></text>
<text transform="translate(436.6,191.3) scale(0.93,1)" font-family='"Liberation Serif", serif' font-size="10" font-weight="bold" fill="#000">0.5 x 10<tspan font-size="7" dx="0.5" dy="-2.9">5</tspan></text>
<text transform="translate(459.3,210.4) scale(0.9,1)" font-family='"Liberation Serif", serif' font-size="10.3" font-weight="bold" fill="#000" text-anchor="start" >0</text>
<text transform="translate(480.6,213.0) scale(0.92,1)" font-family='"Liberation Serif", serif' font-size="11.5" font-weight="bold" fill="#1e5b1e" text-anchor="middle" >0</text>
<text transform="translate(506.6,213.0) scale(0.92,1)" font-family='"Liberation Serif", serif' font-size="11.5" font-weight="bold" fill="#1e5b1e" text-anchor="middle" >10</text>
<text transform="translate(537.7,213.0) scale(0.92,1)" font-family='"Liberation Serif", serif' font-size="11.5" font-weight="bold" fill="#1e5b1e" text-anchor="middle" >20</text>
<text transform="translate(563,213.0) scale(0.92,1)" font-family='"Liberation Serif", serif' font-size="11.5" font-weight="bold" fill="#1e5b1e" text-anchor="middle" >30</text>
<text transform="translate(596.9,213.0) scale(0.92,1)" font-family='"Liberation Serif", serif' font-size="11.5" font-weight="bold" fill="#1e5b1e" text-anchor="middle" >40</text>
<text transform="translate(622.2,213.0) scale(0.92,1)" font-family='"Liberation Serif", serif' font-size="11.5" font-weight="bold" fill="#1e5b1e" text-anchor="middle" >50</text>
<text transform="translate(650.9,213.0) scale(0.92,1)" font-family='"Liberation Serif", serif' font-size="11.5" font-weight="bold" fill="#1e5b1e" text-anchor="middle" >60</text>
<text transform="translate(680,213.0) scale(0.92,1)" font-family='"Liberation Serif", serif' font-size="11.5" font-weight="bold" fill="#1e5b1e" text-anchor="middle" >70</text>
<text transform="translate(582.3,225.0) scale(0.92,1)" font-family='"Liberation Serif", serif' font-size="11.5" font-weight="bold" fill="#1e5b1e" text-anchor="middle" >Days</text>
<path d="M475.60,202.30 C476.17,196.58 477.82,180.05 479.00,168.00 C480.18,155.95 481.50,142.17 482.70,130.00 C483.90,117.83 485.25,104.67 486.20,95.00 C487.15,85.33 487.72,78.08 488.40,72.00 C489.08,65.92 489.58,62.08 490.30,58.50 C491.02,54.92 491.92,53.12 492.70,50.50 C493.48,47.88 494.17,45.13 495.00,42.80 C495.83,40.47 496.78,38.55 497.70,36.50 C498.62,34.45 499.63,32.33 500.50,30.50 C501.37,28.67 502.15,26.88 502.90,25.50 C503.65,24.12 504.38,23.03 505.00,22.20 C505.62,21.37 506.13,20.88 506.60,20.50 C507.07,20.12 506.90,20.03 507.80,19.90 C508.70,19.77 510.55,19.73 512.00,19.70 C513.45,19.67 515.53,19.63 516.50,19.70 C517.47,19.77 517.40,19.78 517.80,20.10 C518.20,20.42 518.58,20.78 518.90,21.60 C519.22,22.42 519.47,23.27 519.70,25.00 C519.93,26.73 520.10,29.17 520.30,32.00 C520.50,34.83 520.68,38.83 520.90,42.00 C521.12,45.17 521.37,47.83 521.60,51.00 C521.83,54.17 521.98,56.83 522.30,61.00 C522.62,65.17 523.05,71.17 523.50,76.00 C523.95,80.83 524.28,84.33 525.00,90.00 C525.72,95.67 526.83,103.33 527.80,110.00 C528.77,116.67 530.02,124.47 530.80,130.00 C531.58,135.53 531.82,138.53 532.50,143.20 C533.18,147.87 533.95,153.62 534.90,158.00 C535.85,162.38 536.95,165.93 538.20,169.50 C539.45,173.07 541.02,176.65 542.40,179.40 C543.78,182.15 545.00,183.93 546.50,186.00 C548.00,188.07 549.48,190.02 551.40,191.80 C553.32,193.58 555.53,195.33 558.00,196.70 C560.47,198.07 563.18,199.17 566.20,200.00 C569.22,200.83 573.07,201.35 576.10,201.70 C579.13,202.05 581.75,202.00 584.40,202.10 C587.05,202.20 590.73,202.27 592.00,202.30" fill="none" stroke="#9b2de0" stroke-width="1.3" stroke-linejoin="round" stroke-linecap="round" opacity="1"/>
<path d="M482.90,202.50 C483.32,201.68 484.75,199.73 485.40,197.60 C486.05,195.47 486.23,192.67 486.80,189.70 C487.37,186.73 488.13,182.62 488.80,179.80 C489.47,176.98 490.22,174.43 490.80,172.80 C491.38,171.17 491.80,170.57 492.30,170.00 C492.80,169.43 493.32,169.37 493.80,169.40 C494.28,169.43 494.72,169.78 495.20,170.20 C495.68,170.62 495.78,170.63 496.70,171.90 C497.62,173.17 499.22,175.67 500.70,177.80 C502.18,179.93 503.78,182.57 505.60,184.70 C507.42,186.83 509.45,188.78 511.60,190.60 C513.75,192.42 516.20,194.25 518.50,195.60 C520.80,196.95 522.93,197.88 525.40,198.70 C527.87,199.52 530.53,199.98 533.30,200.50 C536.07,201.02 539.22,201.50 542.00,201.80 C544.78,202.10 548.67,202.22 550.00,202.30" fill="none" stroke="#e8a020" stroke-width="1.5" stroke-linejoin="round" stroke-linecap="round" opacity="1"/>
<path d="M482.90,202.50 C483.40,201.68 484.92,200.07 485.90,197.60 C486.88,195.13 487.98,189.85 488.80,187.70 C489.62,185.55 490.13,185.45 490.80,184.70 C491.47,183.95 491.98,183.20 492.80,183.20 C493.62,183.20 494.22,183.62 495.70,184.70 C497.18,185.78 499.55,188.05 501.70,189.70 C503.85,191.35 506.13,193.20 508.60,194.60 C511.07,196.00 513.70,197.20 516.50,198.10 C519.30,199.00 522.60,199.52 525.40,200.00 C528.20,200.48 530.03,200.63 533.30,201.00 C536.57,201.37 543.05,202.00 545.00,202.20" fill="none" stroke="#666" stroke-width="1.3" stroke-linejoin="round" stroke-linecap="round" opacity="1"/>
<path d="M476.50,202.50 C476.90,201.68 478.00,198.83 478.90,197.60 C479.80,196.37 480.73,195.68 481.90,195.10 C483.07,194.52 484.42,194.27 485.90,194.10 C487.38,193.93 489.17,193.93 490.80,194.10 C492.43,194.27 493.55,194.52 495.70,195.10 C497.85,195.68 500.73,196.78 503.70,197.60 C506.67,198.42 510.22,199.35 513.50,200.00 C516.78,200.65 520.15,201.12 523.40,201.50 C526.65,201.88 531.40,202.17 533.00,202.30" fill="none" stroke="#5ab4ea" stroke-width="1.3" stroke-linejoin="round" stroke-linecap="round" opacity="1"/>
<path d="M475.60,202.30 L671.00,202.30" fill="none" stroke="#c9772c" stroke-width="1.7" stroke-linejoin="round"/>
<text transform="translate(500.0,15.9) scale(0.79,1)" font-family='"Liberation Sans", sans-serif' font-size="8.9" font-weight="normal" fill="#555" text-anchor="end" >IFN-g</text>
<line x1="504.6" y1="12.5" x2="524.4" y2="12.5" stroke="#9b30e0" stroke-width="1.3"/>
<text transform="translate(500.0,25.369999999999997) scale(0.79,1)" font-family='"Liberation Sans", sans-serif' font-size="8.9" font-weight="normal" fill="#555" text-anchor="end" >IL-4</text>
<line x1="504.6" y1="21.97" x2="524.4" y2="21.97" stroke="#26a883" stroke-width="1.3"/>
<text transform="translate(500.0,34.84) scale(0.79,1)" font-family='"Liberation Sans", sans-serif' font-size="8.9" font-weight="normal" fill="#555" text-anchor="end" >IL-12</text>
<line x1="504.6" y1="31.44" x2="524.4" y2="31.44" stroke="#5ab4ea" stroke-width="1.3"/>
<text transform="translate(500.0,44.31) scale(0.79,1)" font-family='"Liberation Sans", sans-serif' font-size="8.9" font-weight="normal" fill="#555" text-anchor="end" >TGF-b</text>
<line x1="504.6" y1="40.910000000000004" x2="524.4" y2="40.910000000000004" stroke="#e8a020" stroke-width="1.3"/>
<text transform="translate(500.0,53.78) scale(0.79,1)" font-family='"Liberation Sans", sans-serif' font-size="8.9" font-weight="normal" fill="#555" text-anchor="end" >TNF-a</text>
<line x1="504.6" y1="50.38" x2="524.4" y2="50.38" stroke="#e53020" stroke-width="1.3"/>
<text transform="translate(500.0,63.25) scale(0.79,1)" font-family='"Liberation Sans", sans-serif' font-size="8.9" font-weight="normal" fill="#555" text-anchor="end" >IL-10</text>
<line x1="504.6" y1="59.85" x2="524.4" y2="59.85" stroke="#666666" stroke-width="1.3"/>
<text transform="translate(500.0,72.72000000000001) scale(0.79,1)" font-family='"Liberation Sans", sans-serif' font-size="8.9" font-weight="normal" fill="#555" text-anchor="end" >IL-6</text>
<line x1="504.6" y1="69.32000000000001" x2="524.4" y2="69.32000000000001" stroke="#b060f0" stroke-width="1.3"/>
<text transform="translate(500.0,82.19000000000001) scale(0.79,1)" font-family='"Liberation Sans", sans-serif' font-size="8.9" font-weight="normal" fill="#555" text-anchor="end" >IFN-b</text>
<line x1="504.6" y1="78.79" x2="524.4" y2="78.79" stroke="#8ad4b8" stroke-width="1.3"/>
<text transform="translate(500.0,91.66000000000001) scale(0.79,1)" font-family='"Liberation Sans", sans-serif' font-size="8.9" font-weight="normal" fill="#555" text-anchor="end" >IL-18</text>
<line x1="504.6" y1="88.26" x2="524.4" y2="88.26" stroke="#b8e2f8" stroke-width="1.3"/>
<text transform="translate(500.0,101.13000000000001) scale(0.79,1)" font-family='"Liberation Sans", sans-serif' font-size="8.9" font-weight="normal" fill="#555" text-anchor="end" >IL-23</text>
<line x1="504.6" y1="97.73" x2="524.4" y2="97.73" stroke="#f8d595" stroke-width="1.3"/>
<rect x="568.4" y="16" width="107.70000000000005" height="102.4" fill="#fff" stroke="#c4c4c4" stroke-width="1"/>
<line x1="583.7857142857142" y1="118.4" x2="583.7857142857142" y2="115.4" stroke="#c4c4c4" stroke-width="1"/>
<line x1="583.7857142857142" y1="16" x2="583.7857142857142" y2="19" stroke="#c4c4c4" stroke-width="1"/>
<line x1="599.1714285714286" y1="118.4" x2="599.1714285714286" y2="115.4" stroke="#c4c4c4" stroke-width="1"/>
<line x1="599.1714285714286" y1="16" x2="599.1714285714286" y2="19" stroke="#c4c4c4" stroke-width="1"/>
<line x1="614.5571428571428" y1="118.4" x2="614.5571428571428" y2="115.4" stroke="#c4c4c4" stroke-width="1"/>
<line x1="614.5571428571428" y1="16" x2="614.5571428571428" y2="19" stroke="#c4c4c4" stroke-width="1"/>
<line x1="629.9428571428572" y1="118.4" x2="629.9428571428572" y2="115.4" stroke="#c4c4c4" stroke-width="1"/>
<line x1="629.9428571428572" y1="16" x2="629.9428571428572" y2="19" stroke="#c4c4c4" stroke-width="1"/>
<line x1="645.3285714285714" y1="118.4" x2="645.3285714285714" y2="115.4" stroke="#c4c4c4" stroke-width="1"/>
<line x1="645.3285714285714" y1="16" x2="645.3285714285714" y2="19" stroke="#c4c4c4" stroke-width="1"/>
<line x1="660.7142857142858" y1="118.4" x2="660.7142857142858" y2="115.4" stroke="#c4c4c4" stroke-width="1"/>
<line x1="660.7142857142858" y1="16" x2="660.7142857142858" y2="19" stroke="#c4c4c4" stroke-width="1"/>
<line x1="568.4" y1="97.92" x2="571.4" y2="97.92" stroke="#c4c4c4" stroke-width="1"/>
<line x1="676.1" y1="97.92" x2="673.1" y2="97.92" stroke="#c4c4c4" stroke-width="1"/>
<line x1="568.4" y1="77.44" x2="571.4" y2="77.44" stroke="#c4c4c4" stroke-width="1"/>
<line x1="676.1" y1="77.44" x2="673.1" y2="77.44" stroke="#c4c4c4" stroke-width="1"/>
<line x1="568.4" y1="56.959999999999994" x2="571.4" y2="56.959999999999994" stroke="#c4c4c4" stroke-width="1"/>
<line x1="676.1" y1="56.959999999999994" x2="673.1" y2="56.959999999999994" stroke="#c4c4c4" stroke-width="1"/>
<line x1="568.4" y1="36.480000000000004" x2="571.4" y2="36.480000000000004" stroke="#c4c4c4" stroke-width="1"/>
<line x1="676.1" y1="36.480000000000004" x2="673.1" y2="36.480000000000004" stroke="#c4c4c4" stroke-width="1"/>
<text transform="translate(563.8,121.60000000000001) scale(0.81,1)" font-family='"Liberation Sans", sans-serif' font-size="8.9" font-weight="normal" fill="#555" text-anchor="end" >0</text>
<text transform="translate(563.8,101.12) scale(0.81,1)" font-family='"Liberation Sans", sans-serif' font-size="8.9" font-weight="normal" fill="#555" text-anchor="end" >50000</text>
<text transform="translate(563.8,80.64) scale(0.81,1)" font-family='"Liberation Sans", sans-serif' font-size="8.9" font-weight="normal" fill="#555" text-anchor="end" >100000</text>
<text transform="translate(563.8,60.16) scale(0.81,1)" font-family='"Liberation Sans", sans-serif' font-size="8.9" font-weight="normal" fill="#555" text-anchor="end" >150000</text>
<text transform="translate(563.8,39.68000000000001) scale(0.81,1)" font-family='"Liberation Sans", sans-serif' font-size="8.9" font-weight="normal" fill="#555" text-anchor="end" >200000</text>
<text transform="translate(563.8,19.2) scale(0.81,1)" font-family='"Liberation Sans", sans-serif' font-size="8.9" font-weight="normal" fill="#555" text-anchor="end" >250000</text>
<text transform="translate(569.4,130.8) scale(0.81,1)" font-family='"Liberation Sans", sans-serif' font-size="8.9" font-weight="normal" fill="#555" text-anchor="middle" >0</text>
<text transform="translate(584.7857142857142,130.8) scale(0.81,1)" font-family='"Liberation Sans", sans-serif' font-size="8.9" font-weight="normal" fill="#555" text-anchor="middle" >10</text>
<text transform="translate(600.1714285714286,130.8) scale(0.81,1)" font-family='"Liberation Sans", sans-serif' font-size="8.9" font-weight="normal" fill="#555" text-anchor="middle" >20</text>
<text transform="translate(615.5571428571428,130.8) scale(0.81,1)" font-family='"Liberation Sans", sans-serif' font-size="8.9" font-weight="normal" fill="#555" text-anchor="middle" >30</text>
<text transform="translate(630.9428571428572,130.8) scale(0.81,1)" font-family='"Liberation Sans", sans-serif' font-size="8.9" font-weight="normal" fill="#555" text-anchor="middle" >40</text>
<text transform="translate(646.3285714285714,130.8) scale(0.81,1)" font-family='"Liberation Sans", sans-serif' font-size="8.9" font-weight="normal" fill="#555" text-anchor="middle" >50</text>
<text transform="translate(661.7142857142858,130.8) scale(0.81,1)" font-family='"Liberation Sans", sans-serif' font-size="8.9" font-weight="normal" fill="#555" text-anchor="middle" >60</text>
<text transform="translate(677.1,130.8) scale(0.81,1)" font-family='"Liberation Sans", sans-serif' font-size="8.9" font-weight="normal" fill="#555" text-anchor="middle" >70</text>
<text transform="translate(588.5,27.8) scale(0.81,1)" font-family='"Liberation Sans", sans-serif' font-size="8.9" font-weight="normal" fill="#555" text-anchor="end" >D</text>
<line x1="593.7" y1="24" x2="613" y2="24" stroke="#5ab4ea" stroke-width="1.3"/>
<text transform="translate(588.5,37.4) scale(0.81,1)" font-family='"Liberation Sans", sans-serif' font-size="8.9" font-weight="normal" fill="#555" text-anchor="end" >IL-2</text>
<line x1="593.7" y1="33.8" x2="613" y2="33.8" stroke="#e8a020" stroke-width="1.5"/>
<path d="M568.40,118.40 C568.67,118.17 569.40,117.47 570.00,117.00 C570.60,116.53 571.27,115.95 572.00,115.60 C572.73,115.25 573.68,114.95 574.40,114.90 C575.12,114.85 575.53,115.05 576.30,115.30 C577.07,115.55 577.73,116.05 579.00,116.40 C580.27,116.75 581.77,117.08 583.90,117.40 C586.03,117.72 586.78,118.13 591.80,118.30 C596.82,118.47 610.30,118.38 614.00,118.40" fill="none" stroke="#5ab4ea" stroke-width="1.1" stroke-linejoin="round" stroke-linecap="round" opacity="1"/>
<path d="M568.40,118.40 C568.73,118.22 569.75,118.12 570.40,117.30 C571.05,116.48 571.78,115.55 572.30,113.50 C572.82,111.45 573.17,108.42 573.50,105.00 C573.83,101.58 573.98,98.83 574.30,93.00 C574.62,87.17 575.03,76.83 575.40,70.00 C575.77,63.17 576.17,57.00 576.50,52.00 C576.83,47.00 577.13,42.85 577.40,40.00 C577.67,37.15 577.98,35.75 578.10,34.90" fill="none" stroke="#e8a020" stroke-width="1.3" stroke-linejoin="round" stroke-linecap="round" opacity="1"/>
<path d="M578.10,34.90 C578.30,35.75 578.90,37.98 579.30,40.00 C579.70,42.02 580.15,44.83 580.50,47.00 C580.85,49.17 581.10,50.83 581.40,53.00 C581.70,55.17 581.88,57.07 582.30,60.00 C582.72,62.93 583.30,67.08 583.90,70.60 C584.50,74.12 585.23,77.80 585.90,81.10 C586.57,84.40 587.13,87.32 587.90,90.40 C588.67,93.48 589.52,96.75 590.50,99.60 C591.48,102.45 592.58,105.30 593.80,107.50 C595.02,109.70 596.37,111.37 597.80,112.80 C599.23,114.23 600.53,115.27 602.40,116.10 C604.27,116.93 606.73,117.42 609.00,117.80 C611.27,118.18 606.00,118.30 616.00,118.40 C626.00,118.50 660.17,118.40 669.00,118.40" fill="none" stroke="#e8a020" stroke-width="1.3" stroke-linejoin="round" stroke-linecap="round" opacity="1"/>
<rect x="474.3" y="238" width="206.2" height="190.8" fill="none" stroke="#c4c4c4" stroke-width="1"/>
<line x1="500.075" y1="428.8" x2="500.075" y2="425.3" stroke="#c4c4c4" stroke-width="1"/>
<line x1="500.075" y1="238" x2="500.075" y2="241.5" stroke="#c4c4c4" stroke-width="1"/>
<line x1="525.85" y1="428.8" x2="525.85" y2="425.3" stroke="#c4c4c4" stroke-width="1"/>
<line x1="525.85" y1="238" x2="525.85" y2="241.5" stroke="#c4c4c4" stroke-width="1"/>
<line x1="551.625" y1="428.8" x2="551.625" y2="425.3" stroke="#c4c4c4" stroke-width="1"/>
<line x1="551.625" y1="238" x2="551.625" y2="241.5" stroke="#c4c4c4" stroke-width="1"/>
<line x1="577.4" y1="428.8" x2="577.4" y2="425.3" stroke="#c4c4c4" stroke-width="1"/>
<line x1="577.4" y1="238" x2="577.4" y2="241.5" stroke="#c4c4c4" stroke-width="1"/>
<line x1="603.175" y1="428.8" x2="603.175" y2="425.3" stroke="#c4c4c4" stroke-width="1"/>
<line x1="603.175" y1="238" x2="603.175" y2="241.5" stroke="#c4c4c4" stroke-width="1"/>
<line x1="628.95" y1="428.8" x2="628.95" y2="425.3" stroke="#c4c4c4" stroke-width="1"/>
<line x1="628.95" y1="238" x2="628.95" y2="241.5" stroke="#c4c4c4" stroke-width="1"/>
<line x1="654.725" y1="428.8" x2="654.725" y2="425.3" stroke="#c4c4c4" stroke-width="1"/>
<line x1="654.725" y1="238" x2="654.725" y2="241.5" stroke="#c4c4c4" stroke-width="1"/>
<line x1="474.3" y1="407.6" x2="477.8" y2="407.6" stroke="#c4c4c4" stroke-width="1"/>
<line x1="474.3" y1="386.4" x2="477.8" y2="386.4" stroke="#c4c4c4" stroke-width="1"/>
<line x1="474.3" y1="365.2" x2="477.8" y2="365.2" stroke="#c4c4c4" stroke-width="1"/>
<line x1="474.3" y1="344.0" x2="477.8" y2="344.0" stroke="#c4c4c4" stroke-width="1"/>
<line x1="474.3" y1="322.8" x2="477.8" y2="322.8" stroke="#c4c4c4" stroke-width="1"/>
<line x1="474.3" y1="301.6" x2="477.8" y2="301.6" stroke="#c4c4c4" stroke-width="1"/>
<line x1="474.3" y1="280.4" x2="477.8" y2="280.4" stroke="#c4c4c4" stroke-width="1"/>
<line x1="474.3" y1="259.2" x2="477.8" y2="259.2" stroke="#c4c4c4" stroke-width="1"/>
<line x1="680.5" y1="407.6" x2="677.0" y2="407.6" stroke="#c4c4c4" stroke-width="1"/>
<line x1="680.5" y1="386.4" x2="677.0" y2="386.4" stroke="#c4c4c4" stroke-width="1"/>
<line x1="680.5" y1="365.2" x2="677.0" y2="365.2" stroke="#c4c4c4" stroke-width="1"/>
<line x1="680.5" y1="344.0" x2="677.0" y2="344.0" stroke="#c4c4c4" stroke-width="1"/>
<line x1="680.5" y1="322.8" x2="677.0" y2="322.8" stroke="#c4c4c4" stroke-width="1"/>
<line x1="680.5" y1="301.6" x2="677.0" y2="301.6" stroke="#c4c4c4" stroke-width="1"/>
<line x1="680.5" y1="280.4" x2="677.0" y2="280.4" stroke="#c4c4c4" stroke-width="1"/>
<line x1="680.5" y1="259.2" x2="677.0" y2="259.2" stroke="#c4c4c4" stroke-width="1"/>
<text x="384.4" y="243.1" font-family='"Liberation Sans", sans-serif' font-size="13.5" font-weight="bold" fill="#000" text-anchor="start" letter-spacing="0.35">(d)</text>
<rect x="405.3" y="256.8" width="24.9" height="160.3" fill="#1b3c62"/>
<text transform="translate(424,410.1) rotate(-90)" font-family='"Liberation Sans", sans-serif' font-size="15.6" fill="#fff" stroke="#1b3c62" stroke-width="0.35" textLength="144.2" lengthAdjust="spacingAndGlyphs">Concentration (ng/ml)</text>
<text transform="translate(438.6,244) scale(0.92,1)" font-family='"Liberation Serif", serif' font-size="9.6" font-weight="bold" fill="#000">4.5 x 10<tspan font-size="6.8" dx="0.4" dy="-2.8">5</tspan></text>
<text transform="translate(438.6,265.2) scale(0.92,1)" font-family='"Liberation Serif", serif' font-size="9.6" font-weight="bold" fill="#000">4.0 x 10<tspan font-size="6.8" dx="0.4" dy="-2.8">5</tspan></text>
<text transform="translate(438.6,286.4) scale(0.92,1)" font-family='"Liberation Serif", serif' font-size="9.6" font-weight="bold" fill="#000">3.5 x 10<tspan font-size="6.8" dx="0.4" dy="-2.8">5</tspan></text>
<text transform="translate(438.4,307.8) scale(0.92,1)" font-family='"Liberation Serif", serif' font-size="9.6" font-weight="bold" fill="#000">3 x 10<tspan font-size="6.8" dx="0.4" dy="-2.8">5</tspan></text>
<text transform="translate(438.4,329.1) scale(0.92,1)" font-family='"Liberation Serif", serif' font-size="9.6" font-weight="bold" fill="#000">2.5 x 10<tspan font-size="6.8" dx="0.4" dy="-2.8">5</tspan></text>
<text transform="translate(438.4,350.5) scale(0.92,1)" font-family='"Liberation Serif", serif' font-size="9.6" font-weight="bold" fill="#000">2 x 10<tspan font-size="6.8" dx="0.4" dy="-2.8">5</tspan></text>
<text transform="translate(438.7,372.2) scale(0.92,1)" font-family='"Liberation Serif", serif' font-size="9.6" font-weight="bold" fill="#000">1.5 x 10<tspan font-size="6.8" dx="0.4" dy="-2.8">5</tspan></text>
<text transform="translate(440.8,393.5) scale(0.92,1)" font-family='"Liberation Serif", serif' font-size="9.6" font-weight="bold" fill="#000">1.0 x 10<tspan font-size="6.8" dx="0.4" dy="-2.8">5</tspan></text>
<text transform="translate(438.7,414.6) scale(0.92,1)" font-family='"Liberation Serif", serif' font-size="9.6" font-weight="bold" fill="#000">0.5 x 10<tspan font-size="6.8" dx="0.4" dy="-2.8">5</tspan></text>
<text transform="translate(459.8,432.1) scale(0.9,1)" font-family='"Liberation Serif", serif' font-size="10" font-weight="bold" fill="#000" text-anchor="start" >0</text>
<text transform="translate(478.5,438.7) scale(0.92,1)" font-family='"Liberation Serif", serif' font-size="11.5" font-weight="bold" fill="#1e5b1e" text-anchor="middle" >0</text>
<text transform="translate(504.3,438.7) scale(0.92,1)" font-family='"Liberation Serif", serif' font-size="11.5" font-weight="bold" fill="#1e5b1e" text-anchor="middle" >50</text>
<text transform="translate(526.8,438.7) scale(0.92,1)" font-family='"Liberation Serif", serif' font-size="11.5" font-weight="bold" fill="#1e5b1e" text-anchor="middle" >100</text>
<text transform="translate(554,438.7) scale(0.92,1)" font-family='"Liberation Serif", serif' font-size="11.5" font-weight="bold" fill="#1e5b1e" text-anchor="middle" >150</text>
<text transform="translate(579.2,438.7) scale(0.92,1)" font-family='"Liberation Serif", serif' font-size="11.5" font-weight="bold" fill="#1e5b1e" text-anchor="middle" >200</text>
<text transform="translate(605.2,438.7) scale(0.92,1)" font-family='"Liberation Serif", serif' font-size="11.5" font-weight="bold" fill="#1e5b1e" text-anchor="middle" >250</text>
<text transform="translate(628.2,438.7) scale(0.92,1)" font-family='"Liberation Serif", serif' font-size="11.5" font-weight="bold" fill="#1e5b1e" text-anchor="middle" >300</text>
<text transform="translate(656.4,438.7) scale(0.92,1)" font-family='"Liberation Serif", serif' font-size="11.5" font-weight="bold" fill="#1e5b1e" text-anchor="middle" >350</text>
<text transform="translate(678,438.7) scale(0.92,1)" font-family='"Liberation Serif", serif' font-size="11.5" font-weight="bold" fill="#1e5b1e" text-anchor="middle" >400</text>
<text transform="translate(581.7,450.7) scale(0.92,1)" font-family='"Liberation Serif", serif' font-size="11.5" font-weight="bold" fill="#1e5b1e" text-anchor="middle" >Days</text>
<path d="M474.70,428.80 C474.72,420.67 474.75,395.63 474.80,380.00 C474.85,364.37 474.92,346.47 475.00,335.00 C475.08,323.53 475.07,320.68 475.30,311.20 C475.53,301.72 475.95,286.93 476.40,278.10 C476.85,269.27 477.52,262.32 478.00,258.20 C478.48,254.08 478.90,254.32 479.30,253.40 C479.70,252.48 480.22,252.82 480.40,252.70" fill="none" stroke="#9b2de0" stroke-width="1.2" stroke-linejoin="round" stroke-linecap="round" opacity="1"/>
<path d="M480.40,252.70 C480.58,253.07 481.17,252.52 481.50,254.90 C481.83,257.28 482.15,261.30 482.40,267.00 C482.65,272.70 482.82,279.90 483.00,289.10 C483.18,298.30 483.28,307.92 483.50,322.20 C483.72,336.48 484.03,362.67 484.30,374.80 C484.57,386.93 484.83,389.40 485.10,395.00 C485.37,400.60 485.47,403.57 485.90,408.40 C486.33,413.23 487.03,420.63 487.70,424.00 C488.37,427.37 489.53,427.83 489.90,428.60" fill="none" stroke="#9b2de0" stroke-width="1.2" stroke-linejoin="round" stroke-linecap="round" opacity="1"/>
<path d="M489.90,428.80 C489.93,422.33 489.98,403.97 490.10,390.00 C490.22,376.03 490.38,358.33 490.60,345.00 C490.82,331.67 491.12,319.33 491.40,310.00 C491.68,300.67 491.97,296.17 492.30,289.00 C492.63,281.83 493.00,271.95 493.40,267.00 C493.80,262.05 494.30,260.77 494.70,259.30 C495.10,257.83 495.62,258.38 495.80,258.20" fill="none" stroke="#9b2de0" stroke-width="1.2" stroke-linejoin="round" stroke-linecap="round" opacity="1"/>
<path d="M495.80,258.20 C495.95,258.57 496.43,257.10 496.70,260.40 C496.97,263.70 497.22,269.53 497.40,278.00 C497.58,286.47 497.67,301.70 497.80,311.20 C497.93,320.70 498.02,324.40 498.20,335.00 C498.38,345.60 498.60,364.80 498.90,374.80 C499.20,384.80 499.63,389.40 500.00,395.00 C500.37,400.60 500.55,403.57 501.10,408.40 C501.65,413.23 502.60,420.63 503.30,424.00 C504.00,427.37 504.97,427.83 505.30,428.60" fill="none" stroke="#9b2de0" stroke-width="1.2" stroke-linejoin="round" stroke-linecap="round" opacity="1"/>
<path d="M505.50,428.80 C505.50,420.67 505.47,394.00 505.50,380.00 C505.53,366.00 505.57,357.42 505.70,344.80 C505.83,332.18 506.00,314.33 506.30,304.30 C506.60,294.27 507.07,289.53 507.50,284.60 C507.93,279.67 508.33,277.50 508.90,274.70 C509.47,271.90 510.35,269.43 510.90,267.80 C511.45,266.17 511.98,265.38 512.20,264.90" fill="none" stroke="#9b2de0" stroke-width="1.2" stroke-linejoin="round" stroke-linecap="round" opacity="1"/>
<path d="M512.20,264.90 C512.30,265.55 512.63,265.52 512.80,268.80 C512.97,272.08 513.03,277.03 513.20,284.60 C513.37,292.17 513.60,304.17 513.80,314.20 C514.00,324.23 514.08,334.70 514.40,344.80 C514.72,354.90 515.23,366.60 515.70,374.80 C516.17,383.00 516.65,388.40 517.20,394.00 C517.75,399.60 518.13,403.58 519.00,408.40 C519.87,413.22 521.28,419.63 522.40,422.90 C523.52,426.17 524.43,427.02 525.70,428.00 C526.97,428.98 529.28,428.67 530.00,428.80" fill="none" stroke="#9b2de0" stroke-width="1.2" stroke-linejoin="round" stroke-linecap="round" opacity="1"/>
<path d="M474.70,428.80 C474.83,426.00 475.25,416.80 475.50,412.00 C475.75,407.20 475.97,402.55 476.20,400.00 C476.43,397.45 476.78,397.25 476.90,396.70" fill="none" stroke="#eaa52a" stroke-width="1.2" stroke-linejoin="round" stroke-linecap="round" opacity="1"/>
<path d="M476.90,396.70 C477.03,397.75 477.40,400.32 477.70,403.00 C478.00,405.68 478.15,409.48 478.70,412.80 C479.25,416.12 480.07,420.37 481.00,422.90 C481.93,425.43 482.82,427.02 484.30,428.00 C485.78,428.98 488.97,428.67 489.90,428.80" fill="none" stroke="#eaa52a" stroke-width="1.2" stroke-linejoin="round" stroke-linecap="round" opacity="1"/>
<path d="M489.90,428.80 C489.95,424.00 490.08,408.13 490.20,400.00 C490.32,391.87 490.47,384.50 490.60,380.00 C490.73,375.50 490.93,374.17 491.00,373.00" fill="none" stroke="#eaa52a" stroke-width="1.2" stroke-linejoin="round" stroke-linecap="round" opacity="1"/>
<path d="M491.00,373.00 C491.12,374.33 491.43,377.72 491.70,381.00 C491.97,384.28 492.15,387.40 492.60,392.70 C493.05,398.00 493.73,407.77 494.40,412.80 C495.07,417.83 495.67,420.37 496.60,422.90 C497.53,425.43 498.60,427.02 500.00,428.00 C501.40,428.98 504.17,428.67 505.00,428.80" fill="none" stroke="#eaa52a" stroke-width="1.2" stroke-linejoin="round" stroke-linecap="round" opacity="1"/>
<path d="M505.50,428.80 C505.53,427.67 505.62,423.98 505.70,422.00 C505.78,420.02 505.95,417.75 506.00,416.90" fill="none" stroke="#eaa52a" stroke-width="1.2" stroke-linejoin="round" stroke-linecap="round" opacity="1"/>
<path d="M506.00,416.90 C506.20,417.50 506.72,419.32 507.20,420.50 C507.68,421.68 508.05,422.75 508.90,424.00 C509.75,425.25 511.12,427.20 512.30,428.00 C513.48,428.80 515.38,428.67 516.00,428.80" fill="none" stroke="#eaa52a" stroke-width="1.2" stroke-linejoin="round" stroke-linecap="round" opacity="1"/>
<path d="M474.70,428.80 C474.85,426.67 475.33,418.97 475.60,416.00 C475.87,413.03 476.08,412.08 476.30,411.00 C476.52,409.92 476.80,409.75 476.90,409.50" fill="none" stroke="#555" stroke-width="1.1" stroke-linejoin="round" stroke-linecap="round" opacity="1"/>
<path d="M476.90,409.50 C477.05,410.08 477.37,411.25 477.80,413.00 C478.23,414.75 478.80,417.83 479.50,420.00 C480.20,422.17 481.08,424.57 482.00,426.00 C482.92,427.43 484.50,428.17 485.00,428.60" fill="none" stroke="#555" stroke-width="1.1" stroke-linejoin="round" stroke-linecap="round" opacity="1"/>
<path d="M489.90,428.80 C489.93,426.00 490.02,415.97 490.10,412.00 C490.18,408.03 490.32,406.53 490.40,405.00 C490.48,403.47 490.57,403.17 490.60,402.80" fill="none" stroke="#555" stroke-width="1.1" stroke-linejoin="round" stroke-linecap="round" opacity="1"/>
<path d="M490.60,402.80 C490.75,403.50 491.10,404.97 491.50,407.00 C491.90,409.03 492.33,412.33 493.00,415.00 C493.67,417.67 494.50,420.80 495.50,423.00 C496.50,425.20 497.92,427.23 499.00,428.20 C500.08,429.17 501.50,428.70 502.00,428.80" fill="none" stroke="#555" stroke-width="1.1" stroke-linejoin="round" stroke-linecap="round" opacity="1"/>
<path d="M505.50,428.80 C505.53,427.67 505.62,423.73 505.70,422.00 C505.78,420.27 505.95,419.00 506.00,418.40" fill="none" stroke="#555" stroke-width="1.1" stroke-linejoin="round" stroke-linecap="round" opacity="1"/>
<path d="M506.00,418.40 C506.22,418.83 506.72,419.82 507.30,421.00 C507.88,422.18 508.63,424.25 509.50,425.50 C510.37,426.75 512.00,428.00 512.50,428.50" fill="none" stroke="#555" stroke-width="1.1" stroke-linejoin="round" stroke-linecap="round" opacity="1"/>
<path d="M474.70,428.80 C474.78,428.00 475.05,425.22 475.20,424.00 C475.35,422.78 475.47,422.05 475.60,421.50 C475.73,420.95 475.93,420.83 476.00,420.70" fill="none" stroke="#5ab4ea" stroke-width="1.1" stroke-linejoin="round" stroke-linecap="round" opacity="1"/>
<path d="M476.00,420.70 C476.17,420.83 476.50,420.87 477.00,421.50 C477.50,422.13 478.17,423.50 479.00,424.50 C479.83,425.50 480.83,426.80 482.00,427.50 C483.17,428.20 485.33,428.50 486.00,428.70" fill="none" stroke="#5ab4ea" stroke-width="1.1" stroke-linejoin="round" stroke-linecap="round" opacity="1"/>
<path d="M489.90,428.80 C489.98,427.33 490.22,422.22 490.40,420.00 C490.58,417.78 490.78,416.40 491.00,415.50 C491.22,414.60 491.58,414.75 491.70,414.60" fill="none" stroke="#5ab4ea" stroke-width="1.1" stroke-linejoin="round" stroke-linecap="round" opacity="1"/>
<path d="M491.70,414.60 C491.87,414.92 492.23,415.43 492.70,416.50 C493.17,417.57 493.78,419.50 494.50,421.00 C495.22,422.50 496.00,424.27 497.00,425.50 C498.00,426.73 499.50,427.85 500.50,428.40 C501.50,428.95 502.58,428.73 503.00,428.80" fill="none" stroke="#5ab4ea" stroke-width="1.1" stroke-linejoin="round" stroke-linecap="round" opacity="1"/>
<path d="M474.40,428.80 L680.00,428.80" fill="none" stroke="#a89264" stroke-width="1.7" stroke-linejoin="round"/>
<text transform="translate(498.6,249.20000000000002) scale(0.79,1)" font-family='"Liberation Sans", sans-serif' font-size="8.9" font-weight="normal" fill="#555" text-anchor="end" >IFN-g</text>
<line x1="503.3" y1="245.8" x2="523.2" y2="245.8" stroke="#9b30e0" stroke-width="1.3"/>
<text transform="translate(498.6,258.38) scale(0.79,1)" font-family='"Liberation Sans", sans-serif' font-size="8.9" font-weight="normal" fill="#555" text-anchor="end" >IL-4</text>
<line x1="503.3" y1="254.98000000000002" x2="523.2" y2="254.98000000000002" stroke="#26a883" stroke-width="1.3"/>
<text transform="translate(498.6,267.56) scale(0.79,1)" font-family='"Liberation Sans", sans-serif' font-size="8.9" font-weight="normal" fill="#555" text-anchor="end" >IL-12</text>
<line x1="503.3" y1="264.16" x2="523.2" y2="264.16" stroke="#5ab4ea" stroke-width="1.3"/>
<text transform="translate(498.6,276.74) scale(0.79,1)" font-family='"Liberation Sans", sans-serif' font-size="8.9" font-weight="normal" fill="#555" text-anchor="end" >TGF-b</text>
<line x1="503.3" y1="273.34000000000003" x2="523.2" y2="273.34000000000003" stroke="#e8a020" stroke-width="1.3"/>
<text transform="translate(498.6,285.91999999999996) scale(0.79,1)" font-family='"Liberation Sans", sans-serif' font-size="8.9" font-weight="normal" fill="#555" text-anchor="end" >TNF-a</text>
<line x1="503.3" y1="282.52" x2="523.2" y2="282.52" stroke="#e53020" stroke-width="1.3"/>
<text transform="translate(498.6,295.09999999999997) scale(0.79,1)" font-family='"Liberation Sans", sans-serif' font-size="8.9" font-weight="normal" fill="#555" text-anchor="end" >IL-10</text>
<line x1="503.3" y1="291.7" x2="523.2" y2="291.7" stroke="#666666" stroke-width="1.3"/>
<text transform="translate(498.6,304.28) scale(0.79,1)" font-family='"Liberation Sans", sans-serif' font-size="8.9" font-weight="normal" fill="#555" text-anchor="end" >IL-6</text>
<line x1="503.3" y1="300.88" x2="523.2" y2="300.88" stroke="#b060f0" stroke-width="1.3"/>
<text transform="translate(498.6,313.46) scale(0.79,1)" font-family='"Liberation Sans", sans-serif' font-size="8.9" font-weight="normal" fill="#555" text-anchor="end" >IFN-b</text>
<line x1="503.3" y1="310.06" x2="523.2" y2="310.06" stroke="#8ad4b8" stroke-width="1.3"/>
<text transform="translate(498.6,322.64) scale(0.79,1)" font-family='"Liberation Sans", sans-serif' font-size="8.9" font-weight="normal" fill="#555" text-anchor="end" >IL-18</text>
<line x1="503.3" y1="319.24" x2="523.2" y2="319.24" stroke="#b8e2f8" stroke-width="1.3"/>
<text transform="translate(498.6,331.82) scale(0.79,1)" font-family='"Liberation Sans", sans-serif' font-size="8.9" font-weight="normal" fill="#555" text-anchor="end" >IL-23</text>
<line x1="503.3" y1="328.42" x2="523.2" y2="328.42" stroke="#f8d595" stroke-width="1.3"/>
<rect x="566.9" y="249.1" width="107.60000000000002" height="98.70000000000002" fill="#fff" stroke="#c4c4c4" stroke-width="1"/>
<line x1="580.35" y1="347.8" x2="580.35" y2="344.8" stroke="#c4c4c4" stroke-width="1"/>
<line x1="580.35" y1="249.1" x2="580.35" y2="252.1" stroke="#c4c4c4" stroke-width="1"/>
<line x1="593.8" y1="347.8" x2="593.8" y2="344.8" stroke="#c4c4c4" stroke-width="1"/>
<line x1="593.8" y1="249.1" x2="593.8" y2="252.1" stroke="#c4c4c4" stroke-width="1"/>
<line x1="607.25" y1="347.8" x2="607.25" y2="344.8" stroke="#c4c4c4" stroke-width="1"/>
<line x1="607.25" y1="249.1" x2="607.25" y2="252.1" stroke="#c4c4c4" stroke-width="1"/>
<line x1="620.7" y1="347.8" x2="620.7" y2="344.8" stroke="#c4c4c4" stroke-width="1"/>
<line x1="620.7" y1="249.1" x2="620.7" y2="252.1" stroke="#c4c4c4" stroke-width="1"/>
<line x1="634.15" y1="347.8" x2="634.15" y2="344.8" stroke="#c4c4c4" stroke-width="1"/>
<line x1="634.15" y1="249.1" x2="634.15" y2="252.1" stroke="#c4c4c4" stroke-width="1"/>
<line x1="647.6" y1="347.8" x2="647.6" y2="344.8" stroke="#c4c4c4" stroke-width="1"/>
<line x1="647.6" y1="249.1" x2="647.6" y2="252.1" stroke="#c4c4c4" stroke-width="1"/>
<line x1="661.05" y1="347.8" x2="661.05" y2="344.8" stroke="#c4c4c4" stroke-width="1"/>
<line x1="661.05" y1="249.1" x2="661.05" y2="252.1" stroke="#c4c4c4" stroke-width="1"/>
<line x1="566.9" y1="331.35" x2="569.9" y2="331.35" stroke="#c4c4c4" stroke-width="1"/>
<line x1="674.5" y1="331.35" x2="671.5" y2="331.35" stroke="#c4c4c4" stroke-width="1"/>
<line x1="566.9" y1="314.9" x2="569.9" y2="314.9" stroke="#c4c4c4" stroke-width="1"/>
<line x1="674.5" y1="314.9" x2="671.5" y2="314.9" stroke="#c4c4c4" stroke-width="1"/>
<line x1="566.9" y1="298.45" x2="569.9" y2="298.45" stroke="#c4c4c4" stroke-width="1"/>
<line x1="674.5" y1="298.45" x2="671.5" y2="298.45" stroke="#c4c4c4" stroke-width="1"/>
<line x1="566.9" y1="282.0" x2="569.9" y2="282.0" stroke="#c4c4c4" stroke-width="1"/>
<line x1="674.5" y1="282.0" x2="671.5" y2="282.0" stroke="#c4c4c4" stroke-width="1"/>
<line x1="566.9" y1="265.55" x2="569.9" y2="265.55" stroke="#c4c4c4" stroke-width="1"/>
<line x1="674.5" y1="265.55" x2="671.5" y2="265.55" stroke="#c4c4c4" stroke-width="1"/>
<text transform="translate(563.2,351.0) scale(0.81,1)" font-family='"Liberation Sans", sans-serif' font-size="8.9" font-weight="normal" fill="#555" text-anchor="end" >0</text>
<text transform="translate(563.2,334.55) scale(0.81,1)" font-family='"Liberation Sans", sans-serif' font-size="8.9" font-weight="normal" fill="#555" text-anchor="end" >100000</text>
<text transform="translate(563.2,318.09999999999997) scale(0.81,1)" font-family='"Liberation Sans", sans-serif' font-size="8.9" font-weight="normal" fill="#555" text-anchor="end" >200000</text>
<text transform="translate(563.2,301.65) scale(0.81,1)" font-family='"Liberation Sans", sans-serif' font-size="8.9" font-weight="normal" fill="#555" text-anchor="end" >300000</text>
<text transform="translate(563.2,285.2) scale(0.81,1)" font-family='"Liberation Sans", sans-serif' font-size="8.9" font-weight="normal" fill="#555" text-anchor="end" >400000</text>
<text transform="translate(563.2,268.75) scale(0.81,1)" font-family='"Liberation Sans", sans-serif' font-size="8.9" font-weight="normal" fill="#555" text-anchor="end" >500000</text>
<text transform="translate(563.2,252.3) scale(0.81,1)" font-family='"Liberation Sans", sans-serif' font-size="8.9" font-weight="normal" fill="#555" text-anchor="end" >600000</text>
<text transform="translate(568.1,359.9) scale(0.81,1)" font-family='"Liberation Sans", sans-serif' font-size="8.9" font-weight="normal" fill="#555" text-anchor="middle" >0</text>
<text transform="translate(581.5500000000001,359.9) scale(0.81,1)" font-family='"Liberation Sans", sans-serif' font-size="8.9" font-weight="normal" fill="#555" text-anchor="middle" >50</text>
<text transform="translate(595.0,359.9) scale(0.81,1)" font-family='"Liberation Sans", sans-serif' font-size="8.9" font-weight="normal" fill="#555" text-anchor="middle" >100</text>
<text transform="translate(608.45,359.9) scale(0.81,1)" font-family='"Liberation Sans", sans-serif' font-size="8.9" font-weight="normal" fill="#555" text-anchor="middle" >150</text>
<text transform="translate(621.9000000000001,359.9) scale(0.81,1)" font-family='"Liberation Sans", sans-serif' font-size="8.9" font-weight="normal" fill="#555" text-anchor="middle" >200</text>
<text transform="translate(635.35,359.9) scale(0.81,1)" font-family='"Liberation Sans", sans-serif' font-size="8.9" font-weight="normal" fill="#555" text-anchor="middle" >250</text>
<text transform="translate(648.8000000000001,359.9) scale(0.81,1)" font-family='"Liberation Sans", sans-serif' font-size="8.9" font-weight="normal" fill="#555" text-anchor="middle" >300</text>
<text transform="translate(662.25,359.9) scale(0.81,1)" font-family='"Liberation Sans", sans-serif' font-size="8.9" font-weight="normal" fill="#555" text-anchor="middle" >350</text>
<text transform="translate(675.7,359.9) scale(0.81,1)" font-family='"Liberation Sans", sans-serif' font-size="8.9" font-weight="normal" fill="#555" text-anchor="middle" >400</text>
<text transform="translate(588.4,260.9) scale(0.81,1)" font-family='"Liberation Sans", sans-serif' font-size="8.9" font-weight="normal" fill="#555" text-anchor="end" >D</text>
<line x1="592.4" y1="257.7" x2="612.1" y2="257.7" stroke="#5ab4ea" stroke-width="1.3"/>
<text transform="translate(588.4,270.1) scale(0.81,1)" font-family='"Liberation Sans", sans-serif' font-size="8.9" font-weight="normal" fill="#555" text-anchor="end" >IL-2</text>
<line x1="592.4" y1="266.9" x2="612.1" y2="266.9" stroke="#e8a020" stroke-width="1.5"/>
<path d="M567.10,347.80 C567.20,346.50 567.52,343.80 567.70,340.00 C567.88,336.20 568.03,329.27 568.20,325.00 C568.37,320.73 568.62,316.17 568.70,314.40" fill="none" stroke="#e8a020" stroke-width="1.3" stroke-linejoin="round" stroke-linecap="round" opacity="1"/>
<path d="M568.70,314.40 C568.90,316.57 569.50,323.47 569.90,327.40 C570.30,331.33 570.67,335.07 571.10,338.00 C571.53,340.93 572.03,343.40 572.50,345.00 C572.97,346.60 573.52,347.13 573.90,347.60 C574.28,348.07 574.65,347.77 574.80,347.80" fill="none" stroke="#e8a020" stroke-width="1.3" stroke-linejoin="round" stroke-linecap="round" opacity="1"/>
<path d="M574.80,347.80 C574.87,343.17 575.08,330.47 575.20,320.00 C575.32,309.53 575.40,296.13 575.50,285.00 C575.60,273.87 575.75,258.50 575.80,253.20" fill="none" stroke="#e8a020" stroke-width="1.3" stroke-linejoin="round" stroke-linecap="round" opacity="1"/>
<path d="M575.80,253.20 C575.98,257.72 576.52,270.68 576.90,280.30 C577.28,289.92 577.70,302.28 578.10,310.90 C578.50,319.52 578.83,326.52 579.30,332.00 C579.77,337.48 580.38,341.20 580.90,343.80 C581.42,346.40 582.08,346.93 582.40,347.60 C582.72,348.27 582.73,347.77 582.80,347.80" fill="none" stroke="#e8a020" stroke-width="1.3" stroke-linejoin="round" stroke-linecap="round" opacity="1"/>
<path d="M582.80,347.80 C582.88,344.00 583.13,333.80 583.30,325.00 C583.47,316.20 583.65,304.42 583.80,295.00 C583.95,285.58 584.13,272.92 584.20,268.50" fill="none" stroke="#e8a020" stroke-width="1.3" stroke-linejoin="round" stroke-linecap="round" opacity="1"/>
<path d="M584.20,268.50 C584.43,272.42 585.12,283.37 585.60,292.00 C586.08,300.63 586.58,312.63 587.10,320.30 C587.62,327.97 588.15,333.88 588.70,338.00 C589.25,342.12 589.73,343.40 590.40,345.00 C591.07,346.60 591.77,347.13 592.70,347.60 C593.63,348.07 595.45,347.77 596.00,347.80" fill="none" stroke="#e8a020" stroke-width="1.3" stroke-linejoin="round" stroke-linecap="round" opacity="1"/>
<path d="M596.00,347.80 L674.00,347.80" fill="none" stroke="#e8a020" stroke-width="1.3" stroke-linejoin="round"/>
<path d="M567.10,347.80 C567.25,347.63 567.52,347.00 568.00,346.80 C568.48,346.60 569.25,346.50 570.00,346.60 C570.75,346.70 571.67,347.23 572.50,347.40 C573.33,347.57 574.25,347.73 575.00,347.60 C575.75,347.47 576.17,346.72 577.00,346.60 C577.83,346.48 579.03,346.73 580.00,346.90 C580.97,347.07 582.05,347.65 582.80,347.60 C583.55,347.55 583.80,346.70 584.50,346.60 C585.20,346.50 586.25,346.80 587.00,347.00 C587.75,347.20 588.67,347.67 589.00,347.80" fill="none" stroke="#5ab4ea" stroke-width="1.1" stroke-linejoin="round" stroke-linecap="round" opacity="1"/>
</svg>
</body></html>
